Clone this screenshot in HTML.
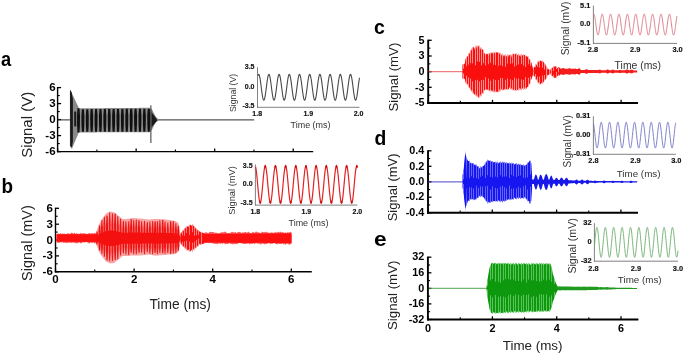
<!DOCTYPE html>
<html><head><meta charset="utf-8"><style>
html,body{margin:0;padding:0;background:#fff;}
svg{display:block;font-family:"Liberation Sans",sans-serif;will-change:transform;}
</style></head><body>
<svg width="685" height="355" viewBox="0 0 685 355">
<rect width="685" height="355" fill="#fff"/>
<text transform="translate(1.1,66.3) scale(0.87,1)" x="0" y="0" font-size="21" font-weight="bold" fill="#000">a</text>
<text transform="translate(1.5,193.2) scale(0.9,1)" x="0" y="0" font-size="21" font-weight="bold" fill="#000">b</text>
<text transform="translate(374.0,33.7) scale(0.93,1)" x="0" y="0" font-size="21" font-weight="bold" fill="#000">c</text>
<text transform="translate(374.5,145.0) scale(0.92,1)" x="0" y="0" font-size="21" font-weight="bold" fill="#000">d</text>
<text transform="translate(374.0,245.6) scale(1.08,1)" x="0" y="0" font-size="21" font-weight="bold" fill="#000">e</text>
<line x1="57.6" y1="87" x2="57.6" y2="152.3" stroke="#000" stroke-width="1.4"/>
<line x1="56.9" y1="151.6" x2="313.2" y2="151.6" stroke="#000" stroke-width="1.4"/>
<line x1="57.6" y1="87.6" x2="61.1" y2="87.6" stroke="#000" stroke-width="1.3"/>
<line x1="57.6" y1="95.6" x2="59.8" y2="95.6" stroke="#000" stroke-width="1.1"/>
<line x1="57.6" y1="103.6" x2="61.1" y2="103.6" stroke="#000" stroke-width="1.3"/>
<line x1="57.6" y1="111.6" x2="59.8" y2="111.6" stroke="#000" stroke-width="1.1"/>
<line x1="57.6" y1="119.6" x2="61.1" y2="119.6" stroke="#000" stroke-width="1.3"/>
<line x1="57.6" y1="127.6" x2="59.8" y2="127.6" stroke="#000" stroke-width="1.1"/>
<line x1="57.6" y1="135.6" x2="61.1" y2="135.6" stroke="#000" stroke-width="1.3"/>
<line x1="57.6" y1="143.6" x2="59.8" y2="143.6" stroke="#000" stroke-width="1.1"/>
<line x1="57.6" y1="151.6" x2="61.1" y2="151.6" stroke="#000" stroke-width="1.3"/>
<text x="55.6" y="91.14" font-size="11.5" text-anchor="end" font-weight="bold" fill="#000">6</text>
<text x="55.6" y="107.14" font-size="11.5" text-anchor="end" font-weight="bold" fill="#000">3</text>
<text x="55.6" y="123.14" font-size="11.5" text-anchor="end" font-weight="bold" fill="#000">0</text>
<text x="55.6" y="139.14" font-size="11.5" text-anchor="end" font-weight="bold" fill="#000">-3</text>
<text x="55.6" y="155.14" font-size="11.5" text-anchor="end" font-weight="bold" fill="#000">-6</text>
<line x1="57.6" y1="151.6" x2="57.6" y2="148.4" stroke="#000" stroke-width="1.3"/>
<line x1="96.87" y1="151.6" x2="96.87" y2="149.4" stroke="#000" stroke-width="1.1"/>
<line x1="136.14" y1="151.6" x2="136.14" y2="148.4" stroke="#000" stroke-width="1.3"/>
<line x1="175.41" y1="151.6" x2="175.41" y2="149.4" stroke="#000" stroke-width="1.1"/>
<line x1="214.68" y1="151.6" x2="214.68" y2="148.4" stroke="#000" stroke-width="1.3"/>
<line x1="253.95" y1="151.6" x2="253.95" y2="149.4" stroke="#000" stroke-width="1.1"/>
<line x1="293.22" y1="151.6" x2="293.22" y2="148.4" stroke="#000" stroke-width="1.3"/>
<text transform="translate(31.9,157.7) rotate(-90)" font-size="15" text-anchor="start" fill="#222">Signal (V)</text>
<line x1="55.5" y1="207.7" x2="55.5" y2="272.4" stroke="#000" stroke-width="1.4"/>
<line x1="54.8" y1="271.7" x2="311.8" y2="271.7" stroke="#000" stroke-width="1.4"/>
<line x1="55.5" y1="208.3" x2="59" y2="208.3" stroke="#000" stroke-width="1.3"/>
<line x1="55.5" y1="216.25" x2="57.7" y2="216.25" stroke="#000" stroke-width="1.1"/>
<line x1="55.5" y1="224.2" x2="59" y2="224.2" stroke="#000" stroke-width="1.3"/>
<line x1="55.5" y1="232.1" x2="57.7" y2="232.1" stroke="#000" stroke-width="1.1"/>
<line x1="55.5" y1="240" x2="59" y2="240" stroke="#000" stroke-width="1.3"/>
<line x1="55.5" y1="247.95" x2="57.7" y2="247.95" stroke="#000" stroke-width="1.1"/>
<line x1="55.5" y1="255.9" x2="59" y2="255.9" stroke="#000" stroke-width="1.3"/>
<line x1="55.5" y1="263.8" x2="57.7" y2="263.8" stroke="#000" stroke-width="1.1"/>
<line x1="55.5" y1="271.7" x2="59" y2="271.7" stroke="#000" stroke-width="1.3"/>
<text x="52.8" y="211.84" font-size="11.5" text-anchor="end" font-weight="bold" fill="#000">6</text>
<text x="52.8" y="227.74" font-size="11.5" text-anchor="end" font-weight="bold" fill="#000">3</text>
<text x="52.8" y="243.54" font-size="11.5" text-anchor="end" font-weight="bold" fill="#000">0</text>
<text x="52.8" y="259.44" font-size="11.5" text-anchor="end" font-weight="bold" fill="#000">-3</text>
<text x="52.8" y="275.24" font-size="11.5" text-anchor="end" font-weight="bold" fill="#000">-6</text>
<line x1="55.5" y1="271.7" x2="55.5" y2="268.5" stroke="#000" stroke-width="1.3"/>
<line x1="94.8" y1="271.7" x2="94.8" y2="269.5" stroke="#000" stroke-width="1.1"/>
<line x1="134.1" y1="271.7" x2="134.1" y2="268.5" stroke="#000" stroke-width="1.3"/>
<line x1="173.4" y1="271.7" x2="173.4" y2="269.5" stroke="#000" stroke-width="1.1"/>
<line x1="212.7" y1="271.7" x2="212.7" y2="268.5" stroke="#000" stroke-width="1.3"/>
<line x1="252" y1="271.7" x2="252" y2="269.5" stroke="#000" stroke-width="1.1"/>
<line x1="291.3" y1="271.7" x2="291.3" y2="268.5" stroke="#000" stroke-width="1.3"/>
<text x="55.5" y="283.4" font-size="11.5" text-anchor="middle" font-weight="bold" fill="#000">0</text>
<text x="134.1" y="283.4" font-size="11.5" text-anchor="middle" font-weight="bold" fill="#000">2</text>
<text x="212.7" y="283.4" font-size="11.5" text-anchor="middle" font-weight="bold" fill="#000">4</text>
<text x="291.3" y="283.4" font-size="11.5" text-anchor="middle" font-weight="bold" fill="#000">6</text>
<text x="180.2" y="309.3" font-size="13.8" text-anchor="middle" fill="#222">Time (ms)</text>
<text transform="translate(31.6,280.9) rotate(-90)" font-size="14.5" text-anchor="start" fill="#222">Signal (mV)</text>
<line x1="428.2" y1="39.7" x2="428.2" y2="103.95" stroke="#000" stroke-width="1.9"/>
<line x1="427.25" y1="103" x2="638" y2="103" stroke="#000" stroke-width="1.9"/>
<line x1="428.2" y1="40.3" x2="431.7" y2="40.3" stroke="#000" stroke-width="1.3"/>
<line x1="428.2" y1="48.15" x2="430.4" y2="48.15" stroke="#000" stroke-width="1.1"/>
<line x1="428.2" y1="56" x2="431.7" y2="56" stroke="#000" stroke-width="1.3"/>
<line x1="428.2" y1="63.85" x2="430.4" y2="63.85" stroke="#000" stroke-width="1.1"/>
<line x1="428.2" y1="71.7" x2="431.7" y2="71.7" stroke="#000" stroke-width="1.3"/>
<line x1="428.2" y1="79.5" x2="430.4" y2="79.5" stroke="#000" stroke-width="1.1"/>
<line x1="428.2" y1="87.3" x2="431.7" y2="87.3" stroke="#000" stroke-width="1.3"/>
<line x1="428.2" y1="95.15" x2="430.4" y2="95.15" stroke="#000" stroke-width="1.1"/>
<line x1="428.2" y1="103" x2="431.7" y2="103" stroke="#000" stroke-width="1.3"/>
<text x="424.6" y="43.59" font-size="10.8" text-anchor="end" font-weight="bold" fill="#000">5</text>
<text x="424.6" y="59.29" font-size="10.8" text-anchor="end" font-weight="bold" fill="#000">3</text>
<text x="424.6" y="74.99" font-size="10.8" text-anchor="end" font-weight="bold" fill="#000">0</text>
<text x="424.6" y="90.59" font-size="10.8" text-anchor="end" font-weight="bold" fill="#000">-3</text>
<text x="424.6" y="106.29" font-size="10.8" text-anchor="end" font-weight="bold" fill="#000">-5</text>
<line x1="428.2" y1="103" x2="428.2" y2="99.8" stroke="#000" stroke-width="1.3"/>
<line x1="460.35" y1="103" x2="460.35" y2="100.8" stroke="#000" stroke-width="1.1"/>
<line x1="492.5" y1="103" x2="492.5" y2="99.8" stroke="#000" stroke-width="1.3"/>
<line x1="524.65" y1="103" x2="524.65" y2="100.8" stroke="#000" stroke-width="1.1"/>
<line x1="556.8" y1="103" x2="556.8" y2="99.8" stroke="#000" stroke-width="1.3"/>
<line x1="588.95" y1="103" x2="588.95" y2="100.8" stroke="#000" stroke-width="1.1"/>
<line x1="621.1" y1="103" x2="621.1" y2="99.8" stroke="#000" stroke-width="1.3"/>
<text transform="translate(397.9,111.6) rotate(-90)" font-size="13.2" text-anchor="start" fill="#222">Signal (mV)</text>
<line x1="428" y1="150.2" x2="428" y2="213.65" stroke="#000" stroke-width="1.9"/>
<line x1="427.05" y1="212.7" x2="638" y2="212.7" stroke="#000" stroke-width="1.9"/>
<line x1="428" y1="150.8" x2="431.5" y2="150.8" stroke="#000" stroke-width="1.3"/>
<line x1="428" y1="158.55" x2="430.2" y2="158.55" stroke="#000" stroke-width="1.1"/>
<line x1="428" y1="166.3" x2="431.5" y2="166.3" stroke="#000" stroke-width="1.3"/>
<line x1="428" y1="174.05" x2="430.2" y2="174.05" stroke="#000" stroke-width="1.1"/>
<line x1="428" y1="181.8" x2="431.5" y2="181.8" stroke="#000" stroke-width="1.3"/>
<line x1="428" y1="189.5" x2="430.2" y2="189.5" stroke="#000" stroke-width="1.1"/>
<line x1="428" y1="197.2" x2="431.5" y2="197.2" stroke="#000" stroke-width="1.3"/>
<line x1="428" y1="204.95" x2="430.2" y2="204.95" stroke="#000" stroke-width="1.1"/>
<line x1="428" y1="212.7" x2="431.5" y2="212.7" stroke="#000" stroke-width="1.3"/>
<text x="424.3" y="154.09" font-size="10.8" text-anchor="end" font-weight="bold" fill="#000">0.4</text>
<text x="424.3" y="169.59" font-size="10.8" text-anchor="end" font-weight="bold" fill="#000">0.2</text>
<text x="424.3" y="185.09" font-size="10.8" text-anchor="end" font-weight="bold" fill="#000">0.0</text>
<text x="424.3" y="200.49" font-size="10.8" text-anchor="end" font-weight="bold" fill="#000">-0.2</text>
<text x="424.3" y="215.99" font-size="10.8" text-anchor="end" font-weight="bold" fill="#000">-0.4</text>
<line x1="428" y1="212.7" x2="428" y2="209.5" stroke="#000" stroke-width="1.3"/>
<line x1="460.15" y1="212.7" x2="460.15" y2="210.5" stroke="#000" stroke-width="1.1"/>
<line x1="492.3" y1="212.7" x2="492.3" y2="209.5" stroke="#000" stroke-width="1.3"/>
<line x1="524.45" y1="212.7" x2="524.45" y2="210.5" stroke="#000" stroke-width="1.1"/>
<line x1="556.6" y1="212.7" x2="556.6" y2="209.5" stroke="#000" stroke-width="1.3"/>
<line x1="588.75" y1="212.7" x2="588.75" y2="210.5" stroke="#000" stroke-width="1.1"/>
<line x1="620.9" y1="212.7" x2="620.9" y2="209.5" stroke="#000" stroke-width="1.3"/>
<text transform="translate(396.9,221.3) rotate(-90)" font-size="13.0" text-anchor="start" fill="#222">Signal (mV)</text>
<line x1="427.9" y1="256.6" x2="427.9" y2="320.45" stroke="#000" stroke-width="1.9"/>
<line x1="426.95" y1="319.5" x2="638.4" y2="319.5" stroke="#000" stroke-width="1.9"/>
<line x1="427.9" y1="257.2" x2="431.4" y2="257.2" stroke="#000" stroke-width="1.3"/>
<line x1="427.9" y1="265" x2="430.1" y2="265" stroke="#000" stroke-width="1.1"/>
<line x1="427.9" y1="272.8" x2="431.4" y2="272.8" stroke="#000" stroke-width="1.3"/>
<line x1="427.9" y1="280.6" x2="430.1" y2="280.6" stroke="#000" stroke-width="1.1"/>
<line x1="427.9" y1="288.4" x2="431.4" y2="288.4" stroke="#000" stroke-width="1.3"/>
<line x1="427.9" y1="296.15" x2="430.1" y2="296.15" stroke="#000" stroke-width="1.1"/>
<line x1="427.9" y1="303.9" x2="431.4" y2="303.9" stroke="#000" stroke-width="1.3"/>
<line x1="427.9" y1="311.7" x2="430.1" y2="311.7" stroke="#000" stroke-width="1.1"/>
<line x1="427.9" y1="319.5" x2="431.4" y2="319.5" stroke="#000" stroke-width="1.3"/>
<text x="424.3" y="260.49" font-size="10.8" text-anchor="end" font-weight="bold" fill="#000">32</text>
<text x="424.3" y="276.09" font-size="10.8" text-anchor="end" font-weight="bold" fill="#000">16</text>
<text x="424.3" y="291.69" font-size="10.8" text-anchor="end" font-weight="bold" fill="#000">0</text>
<text x="424.3" y="307.19" font-size="10.8" text-anchor="end" font-weight="bold" fill="#000">-16</text>
<text x="424.3" y="322.79" font-size="10.8" text-anchor="end" font-weight="bold" fill="#000">-32</text>
<line x1="428.1" y1="319.5" x2="428.1" y2="316.3" stroke="#000" stroke-width="1.3"/>
<line x1="460.25" y1="319.5" x2="460.25" y2="317.3" stroke="#000" stroke-width="1.1"/>
<line x1="492.4" y1="319.5" x2="492.4" y2="316.3" stroke="#000" stroke-width="1.3"/>
<line x1="524.55" y1="319.5" x2="524.55" y2="317.3" stroke="#000" stroke-width="1.1"/>
<line x1="556.7" y1="319.5" x2="556.7" y2="316.3" stroke="#000" stroke-width="1.3"/>
<line x1="588.85" y1="319.5" x2="588.85" y2="317.3" stroke="#000" stroke-width="1.1"/>
<line x1="621" y1="319.5" x2="621" y2="316.3" stroke="#000" stroke-width="1.3"/>
<text x="428.1" y="331.6" font-size="10.8" text-anchor="middle" font-weight="bold" fill="#000">0</text>
<text x="492.4" y="331.6" font-size="10.8" text-anchor="middle" font-weight="bold" fill="#000">2</text>
<text x="556.7" y="331.6" font-size="10.8" text-anchor="middle" font-weight="bold" fill="#000">4</text>
<text x="621" y="331.6" font-size="10.8" text-anchor="middle" font-weight="bold" fill="#000">6</text>
<text x="532.6" y="349.8" font-size="13.4" text-anchor="middle" fill="#222">Time (ms)</text>
<text transform="translate(397.3,330) rotate(-90)" font-size="13.3" text-anchor="start" fill="#222">Signal (mV)</text>
<line x1="57.5" y1="119.9" x2="70.6" y2="119.9" stroke="#2a2a2a" stroke-width="1.0"/>
<line x1="157" y1="119.9" x2="254.2" y2="119.9" stroke="#2a2a2a" stroke-width="1.0"/>
<polygon points="69.9,92 70.4,89.76 70.91,91.02 71.41,92.28 71.91,93.37 72.42,94.43 72.92,95.5 73.42,96.56 73.93,97.62 74.43,98.68 74.93,99.74 75.44,100.81 75.94,101.87 76.44,102.93 76.95,103.99 77.45,105.05 77.95,106.12 78.46,107.18 78.96,108.22 79.46,108.3 79.97,108.29 80.47,108.29 80.98,108.29 81.48,108.28 81.98,108.28 82.49,108.28 82.99,108.27 83.49,108.27 84,108.26 84.5,108.26 85,108.26 85.51,108.25 86.01,108.25 86.51,108.25 87.02,108.24 87.52,108.24 88.02,108.24 88.53,108.23 89.03,108.23 89.53,108.23 90.04,108.22 90.54,108.22 91.04,108.21 91.55,108.21 92.05,108.21 92.55,108.2 93.06,108.2 93.56,108.2 94.06,108.19 94.57,108.19 95.07,108.19 95.57,108.18 96.08,108.18 96.58,108.18 97.08,108.17 97.59,108.17 98.09,108.16 98.59,108.16 99.1,108.16 99.6,108.15 100.1,108.15 100.61,108.15 101.11,108.14 101.61,108.14 102.12,108.14 102.62,108.13 103.12,108.13 103.63,108.13 104.13,108.12 104.64,108.12 105.14,108.11 105.64,108.11 106.15,108.11 106.65,108.1 107.15,108.1 107.66,108.1 108.16,108.09 108.66,108.09 109.17,108.09 109.67,108.08 110.17,108.08 110.68,108.08 111.18,108.07 111.68,108.07 112.19,108.06 112.69,108.06 113.19,108.06 113.7,108.05 114.2,108.05 114.7,108.05 115.21,108.04 115.71,108.04 116.21,108.04 116.72,108.03 117.22,108.03 117.72,108.03 118.23,108.02 118.73,108.02 119.23,108.02 119.74,108.01 120.24,108.01 120.74,108 121.25,108 121.75,108 122.25,107.99 122.76,107.99 123.26,107.99 123.76,107.98 124.27,107.98 124.77,107.98 125.28,107.97 125.78,107.97 126.28,107.97 126.79,107.96 127.29,107.96 127.79,107.95 128.3,107.95 128.8,107.95 129.3,107.94 129.81,107.94 130.31,107.94 130.81,107.93 131.32,107.93 131.82,107.93 132.32,107.92 132.83,107.92 133.33,107.92 133.83,107.91 134.34,107.91 134.84,107.9 135.34,107.9 135.85,107.9 136.35,107.89 136.85,107.89 137.36,107.89 137.86,107.88 138.36,107.88 138.87,107.88 139.37,107.87 139.87,107.87 140.38,107.87 140.88,107.86 141.38,107.86 141.89,107.85 142.39,107.85 142.89,107.85 143.4,107.84 143.9,107.84 144.4,107.84 144.91,107.83 145.41,107.83 145.91,107.83 146.42,107.82 146.92,107.82 147.43,107.82 147.93,107.81 148.43,107.81 148.94,107.8 149.44,107.8 149.94,108.04 150.45,108.39 150.95,108.73 151.45,109.08 151.96,109.43 152.46,110.16 152.96,111.25 153.47,112.34 153.97,113.43 154.47,114.33 154.98,115.21 155.48,116.09 155.98,116.97 156.49,117.45 156.99,117.91 157.49,118.37 158,118.84 158.5,119.3 158.5,120.5 158,120.9 157.49,121.31 156.99,121.71 156.49,122.11 155.98,122.53 155.48,123.28 154.98,124.04 154.47,124.79 153.97,125.57 153.47,126.69 152.96,127.81 152.46,128.92 151.96,129.76 151.45,130.31 150.95,130.85 150.45,131.39 149.94,131.93 149.44,132.3 148.94,132.3 148.43,132.3 147.93,132.3 147.43,132.3 146.92,132.3 146.42,132.3 145.91,132.31 145.41,132.31 144.91,132.31 144.4,132.31 143.9,132.31 143.4,132.31 142.89,132.31 142.39,132.31 141.89,132.31 141.38,132.31 140.88,132.31 140.38,132.31 139.87,132.31 139.37,132.31 138.87,132.32 138.36,132.32 137.86,132.32 137.36,132.32 136.85,132.32 136.35,132.32 135.85,132.32 135.34,132.32 134.84,132.32 134.34,132.32 133.83,132.32 133.33,132.32 132.83,132.32 132.32,132.32 131.82,132.33 131.32,132.33 130.81,132.33 130.31,132.33 129.81,132.33 129.3,132.33 128.8,132.33 128.3,132.33 127.79,132.33 127.29,132.33 126.79,132.33 126.28,132.33 125.78,132.33 125.28,132.33 124.77,132.34 124.27,132.34 123.76,132.34 123.26,132.34 122.76,132.34 122.25,132.34 121.75,132.34 121.25,132.34 120.74,132.34 120.24,132.34 119.74,132.34 119.23,132.34 118.73,132.34 118.23,132.34 117.72,132.35 117.22,132.35 116.72,132.35 116.21,132.35 115.71,132.35 115.21,132.35 114.7,132.35 114.2,132.35 113.7,132.35 113.19,132.35 112.69,132.35 112.19,132.35 111.68,132.35 111.18,132.35 110.68,132.36 110.17,132.36 109.67,132.36 109.17,132.36 108.66,132.36 108.16,132.36 107.66,132.36 107.15,132.36 106.65,132.36 106.15,132.36 105.64,132.36 105.14,132.36 104.64,132.36 104.13,132.36 103.63,132.37 103.12,132.37 102.62,132.37 102.12,132.37 101.61,132.37 101.11,132.37 100.61,132.37 100.1,132.37 99.6,132.37 99.1,132.37 98.59,132.37 98.09,132.37 97.59,132.37 97.08,132.37 96.58,132.38 96.08,132.38 95.57,132.38 95.07,132.38 94.57,132.38 94.06,132.38 93.56,132.38 93.06,132.38 92.55,132.38 92.05,132.38 91.55,132.38 91.04,132.38 90.54,132.38 90.04,132.38 89.53,132.39 89.03,132.39 88.53,132.39 88.02,132.39 87.52,132.39 87.02,132.39 86.51,132.39 86.01,132.39 85.51,132.39 85,132.39 84.5,132.39 84,132.39 83.49,132.39 82.99,132.39 82.49,132.4 81.98,132.4 81.48,132.4 80.98,132.4 80.47,132.4 79.97,132.4 79.46,132.4 78.96,132.4 78.46,133.22 77.95,134.43 77.45,135.63 76.95,136.84 76.44,138.05 75.94,139.25 75.44,140.46 74.93,141.67 74.43,142.87 73.93,144.08 73.42,145.29 72.92,146.49 72.42,147.72 71.91,149.06 71.41,148.34 70.91,147.56 70.4,146.78 69.9,146" fill="#8a8a8a" stroke="none" stroke-width="0"/>
<polygon points="77.5,108.17 79.5,108.17 80,115.47 79.9,125.21 79.5,132.52 77.5,132.52 77.1,125.21 77,115.47" fill="#101010" stroke="none" stroke-width="0"/>
<polygon points="81.89,109.17 83.89,109.17 84.39,115.96 84.29,125.01 83.89,131.79 81.89,131.79 81.49,125.01 81.39,115.96" fill="#101010" stroke="none" stroke-width="0"/>
<polygon points="86.28,109.14 88.28,109.14 88.78,115.94 88.68,124.99 88.28,131.79 86.28,131.79 85.88,124.99 85.78,115.94" fill="#101010" stroke="none" stroke-width="0"/>
<polygon points="90.67,109.11 92.67,109.11 93.17,115.91 93.07,124.98 92.67,131.78 90.67,131.78 90.27,124.98 90.17,115.91" fill="#101010" stroke="none" stroke-width="0"/>
<polygon points="95.06,109.08 97.06,109.08 97.56,115.89 97.46,124.97 97.06,131.78 95.06,131.78 94.66,124.97 94.56,115.89" fill="#101010" stroke="none" stroke-width="0"/>
<polygon points="99.45,109.05 101.45,109.05 101.95,115.86 101.85,124.95 101.45,131.77 99.45,131.77 99.05,124.95 98.95,115.86" fill="#101010" stroke="none" stroke-width="0"/>
<polygon points="103.84,109.02 105.84,109.02 106.34,115.84 106.24,124.94 105.84,131.76 103.84,131.76 103.44,124.94 103.34,115.84" fill="#101010" stroke="none" stroke-width="0"/>
<polygon points="108.23,108.99 110.23,108.99 110.73,115.82 110.63,124.93 110.23,131.76 108.23,131.76 107.83,124.93 107.73,115.82" fill="#101010" stroke="none" stroke-width="0"/>
<polygon points="112.62,108.95 114.62,108.95 115.12,115.79 115.02,124.91 114.62,131.75 112.62,131.75 112.22,124.91 112.12,115.79" fill="#101010" stroke="none" stroke-width="0"/>
<polygon points="117.01,108.92 119.01,108.92 119.51,115.77 119.41,124.9 119.01,131.74 117.01,131.74 116.61,124.9 116.51,115.77" fill="#101010" stroke="none" stroke-width="0"/>
<polygon points="121.4,108.89 123.4,108.89 123.9,115.75 123.8,124.88 123.4,131.74 121.4,131.74 121,124.88 120.9,115.75" fill="#101010" stroke="none" stroke-width="0"/>
<polygon points="125.79,108.86 127.79,108.86 128.29,115.72 128.19,124.87 127.79,131.73 125.79,131.73 125.39,124.87 125.29,115.72" fill="#101010" stroke="none" stroke-width="0"/>
<polygon points="130.18,108.83 132.18,108.83 132.68,115.7 132.58,124.86 132.18,131.73 130.18,131.73 129.78,124.86 129.68,115.7" fill="#101010" stroke="none" stroke-width="0"/>
<polygon points="134.57,108.8 136.57,108.8 137.07,115.68 136.97,124.84 136.57,131.72 134.57,131.72 134.17,124.84 134.07,115.68" fill="#101010" stroke="none" stroke-width="0"/>
<polygon points="138.96,108.77 140.96,108.77 141.46,115.65 141.36,124.83 140.96,131.71 138.96,131.71 138.56,124.83 138.46,115.65" fill="#101010" stroke="none" stroke-width="0"/>
<polygon points="143.35,108.74 145.35,108.74 145.85,115.63 145.75,124.82 145.35,131.71 143.35,131.71 142.95,124.82 142.85,115.63" fill="#101010" stroke="none" stroke-width="0"/>
<polygon points="147.74,108.71 149.74,108.71 150.24,115.6 150.14,124.8 149.74,131.7 147.74,131.7 147.34,124.8 147.24,115.6" fill="#101010" stroke="none" stroke-width="0"/>
<polygon points="151.5,112 157,119.4 157,120.4 151.5,127.5" fill="#1a1a1a" stroke="none" stroke-width="0"/>
<line x1="70.5" y1="90.5" x2="70.9" y2="146" stroke="#333" stroke-width="1.0"/>
<polygon points="70.2,91 71.6,92 72.9,99 72.9,141.2 71.9,147.5 70.4,146" fill="#1a1a1a" stroke="none" stroke-width="0"/>
<polygon points="74.2,111.6 76.2,111.6 76.2,126.4 74.2,126.4" fill="#181818" stroke="none" stroke-width="0"/>
<line x1="150.9" y1="105.3" x2="150.9" y2="143" stroke="#333" stroke-width="1.0"/>
<polygon points="56.5,233.68 57.4,233.95 58.3,233.15 59.2,234.07 60.1,233.32 61,233.59 61.9,234.08 62.8,233.36 63.7,234.1 64.6,233.46 65.5,234.04 66.4,234 67.3,233.47 68.2,232.82 69.1,233.94 70,233.77 70.9,233.12 71.8,232.61 72.7,233.19 73.6,233.48 74.5,232.55 75.4,234.03 76.3,232.73 77.2,233.63 78.1,233.86 79,233.9 79.9,233.59 80.8,232.77 81.7,233.78 82.6,233.14 83.5,233.04 84.4,233.46 85.3,233.18 86.2,233.95 87.1,233.95 88,233.71 88.9,232.95 89.8,233.35 90.7,233.52 91.6,233.08 92.5,233.29 93.4,233.53 94.3,232.74 95.2,232.88 96.1,233.61 97,233.07 97.9,233.15 98.8,232.58 99.7,232.81 100.6,233.51 101.5,232.4 102.4,233.78 103.3,233.29 104.2,232.75 105.1,233.71 106,233.17 106.9,233.88 107.8,232.87 108.7,232.71 109.6,233.01 110.5,232.52 111.4,233.42 112.3,232.8 113.2,232.96 114.1,232.98 115,233.17 115.9,232.55 116.8,232.38 117.7,233.13 118.6,232.82 119.5,233.78 120.4,232.75 121.3,232.83 122.2,232.28 123.1,232.54 124,233.4 124.9,233.23 125.8,232.78 126.7,233.81 127.6,233.1 128.5,233.56 129.4,233.64 130.3,233.73 131.2,232.59 132.1,233.61 133,233.41 133.9,233.18 134.8,232.41 135.7,233.67 136.6,233.07 137.5,232.91 138.4,232.37 139.3,232.47 140.2,232.39 141.1,233.32 142,233.1 142.9,233.18 143.8,232.34 144.7,232.22 145.6,233.5 146.5,233.46 147.4,233.36 148.3,233.36 149.2,232.95 150.1,232.78 151,233.3 151.9,233.71 152.8,233.04 153.7,233.11 154.6,232.79 155.5,232.17 156.4,232.59 157.3,232.86 158.2,232.69 159.1,232.59 160,233.59 160.9,232.23 161.8,232.41 162.7,232.26 163.6,232.38 164.5,233.02 165.4,233.01 166.3,233.47 167.2,232.62 168.1,233.53 169,233.52 169.9,233.29 170.8,233.36 171.7,233.07 172.6,233.52 173.5,233.6 174.4,233.36 175.3,233.43 176.2,233.01 177.1,233.54 178,232.18 178.9,232.59 179.8,233.33 180.7,233.16 181.6,233.01 182.5,232.97 183.4,233.36 184.3,232.19 185.2,231.95 186.1,232.79 187,232.76 187.9,233.39 188.8,233.36 189.7,232.97 190.6,233.09 191.5,232.18 192.4,233.25 193.3,233.46 194.2,231.98 195.1,232.65 196,233.25 196.9,232.61 197.8,233.44 198.7,232.63 199.6,231.9 200.5,232.08 201.4,232.35 202.3,233.04 203.2,232.86 204.1,233.18 205,232.21 205.9,232.59 206.8,232.19 207.7,232.9 208.6,233.07 209.5,232.12 210.4,231.84 211.3,232.05 212.2,232.12 213.1,232.09 214,232.21 214.9,233.03 215.8,232.56 216.7,232.81 217.6,233.33 218.5,233.33 219.4,232.92 220.3,232.95 221.2,232.25 222.1,231.82 223,232.63 223.9,231.85 224.8,231.76 225.7,231.81 226.6,232.75 227.5,232.97 228.4,232.96 229.3,233 230.2,232.99 231.1,232.31 232,231.86 232.9,231.95 233.8,232.53 234.7,232.25 235.6,232.01 236.5,233.15 237.4,232.22 238.3,231.82 239.2,232.02 240.1,232.06 241,232.49 241.9,232.97 242.8,231.99 243.7,232.71 244.6,231.96 245.5,231.68 246.4,232.6 247.3,232.58 248.2,231.71 249.1,232.06 250,232.94 250.9,233 251.8,232.96 252.7,231.75 253.6,231.9 254.5,232.96 255.4,231.86 256.3,231.61 257.2,232.12 258.1,232.61 259,232.29 259.9,232.95 260.8,233.13 261.7,231.6 262.6,232.11 263.5,232.3 264.4,231.65 265.3,232.44 266.2,231.73 267.1,231.8 268,232.78 268.9,232.71 269.8,232.64 270.7,232.72 271.6,232.16 272.5,232.68 273.4,232.42 274.3,232.88 275.2,231.63 276.1,232.51 277,232.34 277.9,232.14 278.8,231.62 279.7,232.39 280.6,231.59 281.5,232.25 282.4,232.2 283.3,232.2 284.2,233.01 285.1,232.33 286,232.74 286.9,233.02 287.8,231.74 288.7,232.74 289.6,232.25 290.5,231.85 291.4,232.11 291.4,243.63 290.5,243.91 289.6,244.74 288.7,244.49 287.8,243.91 286.9,243.2 286,244.66 285.1,244.73 284.2,243.47 283.3,244.58 282.4,243.33 281.5,243.89 280.6,243.88 279.7,243.96 278.8,243.59 277.9,244.2 277,244.22 276.1,244.18 275.2,243.53 274.3,243.19 273.4,243.11 272.5,243.99 271.6,243.57 270.7,244.26 269.8,243.48 268.9,243.3 268,243.18 267.1,244.08 266.2,244.04 265.3,244.27 264.4,244.13 263.5,243.8 262.6,243.64 261.7,243.81 260.8,244.58 259.9,244.19 259,243.33 258.1,244.17 257.2,243.42 256.3,243.11 255.4,243.39 254.5,244.16 253.6,243.08 252.7,244.02 251.8,243.82 250.9,243.76 250,244.15 249.1,244.22 248.2,242.95 247.3,243.72 246.4,244.02 245.5,243.93 244.6,243.92 243.7,243.81 242.8,244.25 241.9,243.07 241,243.48 240.1,243.11 239.2,242.94 238.3,243.25 237.4,243.99 236.5,243.96 235.6,244.3 234.7,243.8 233.8,244.18 232.9,244.14 232,244.18 231.1,243.65 230.2,243.67 229.3,243.05 228.4,244.12 227.5,243.99 226.6,243.82 225.7,244.23 224.8,244.14 223.9,242.87 223,243.82 222.1,243.94 221.2,243.02 220.3,244.35 219.4,243.29 218.5,243.39 217.6,244.17 216.7,243.9 215.8,243.8 214.9,243.94 214,243.58 213.1,243.67 212.2,243.1 211.3,243.21 210.4,242.75 209.5,242.78 208.6,243.34 207.7,242.84 206.8,243.12 205.9,242.7 205,243.49 204.1,243 203.2,243.48 202.3,243.43 201.4,243.27 200.5,242.66 199.6,243.22 198.7,243.14 197.8,244.19 196.9,243.03 196,243.51 195.1,244.18 194.2,244.16 193.3,243.04 192.4,243.32 191.5,242.86 190.6,243.33 189.7,243.06 188.8,242.98 187.9,243.03 187,243.65 186.1,243.96 185.2,243.91 184.3,242.7 183.4,242.82 182.5,242.96 181.6,243.73 180.7,242.65 179.8,242.74 178.9,242.62 178,243.08 177.1,243.17 176.2,243.53 175.3,243.64 174.4,243.83 173.5,243.05 172.6,244.06 171.7,243.59 170.8,243.29 169.9,243.1 169,243.81 168.1,243.26 167.2,243.15 166.3,243.76 165.4,242.62 164.5,243.94 163.6,243.2 162.7,242.74 161.8,243.31 160.9,243.59 160,242.44 159.1,242.81 158.2,242.43 157.3,242.96 156.4,242.68 155.5,243.19 154.6,242.85 153.7,243.59 152.8,242.86 151.9,242.87 151,242.69 150.1,242.44 149.2,242.61 148.3,242.52 147.4,242.72 146.5,243.18 145.6,242.54 144.7,242.75 143.8,243.8 142.9,243.2 142,242.85 141.1,243.03 140.2,243.68 139.3,242.4 138.4,243.66 137.5,242.42 136.6,243.56 135.7,243.29 134.8,243.77 133.9,242.38 133,242.94 132.1,243.35 131.2,242.34 130.3,242.38 129.4,243.35 128.5,243.14 127.6,243.69 126.7,242.46 125.8,242.63 124.9,243.52 124,243.66 123.1,242.87 122.2,242.4 121.3,242.62 120.4,243.43 119.5,242.24 118.6,242.59 117.7,242.33 116.8,243.71 115.9,243.42 115,243.72 114.1,242.25 113.2,242.96 112.3,243.13 111.4,242.66 110.5,242.15 109.6,242.82 108.7,243 107.8,242.14 106.9,243.26 106,242.6 105.1,242.4 104.2,242.63 103.3,242.9 102.4,242.76 101.5,242.33 100.6,243.39 99.7,243.64 98.8,242.83 97.9,242.68 97,243.57 96.1,242.39 95.2,243.58 94.3,243.44 93.4,242.25 92.5,243.07 91.6,243.15 90.7,242.25 89.8,243.43 88.9,243.25 88,243.06 87.1,242.1 86.2,242.36 85.3,242.09 84.4,242.67 83.5,242.16 82.6,242.17 81.7,243.29 80.8,243.45 79.9,242.83 79,242.35 78.1,243.44 77.2,243.33 76.3,243.04 75.4,243.42 74.5,242.67 73.6,242.76 72.7,242.62 71.8,243 70.9,242.71 70,242.69 69.1,242.86 68.2,242.58 67.3,243.32 66.4,243.07 65.5,242.75 64.6,242.66 63.7,243.08 62.8,242.28 61.9,242.23 61,242.72 60.1,241.99 59.2,243.07 58.3,242.7 57.4,242.63 56.5,242.32" fill="#f86060" stroke="none" stroke-width="0"/>
<polygon points="56.5,234.3 200,234 291.6,233.2 291.6,243.2 200,242.4 56.5,241.7" fill="#ff1010" stroke="none" stroke-width="0"/>
<polygon points="181,233.5 181.8,231.9 182.6,230.3 183.4,231.28 184.2,228.55 185,228.9 185.8,227.29 186.6,227.38 187.4,226.04 188.2,227.22 189,225.16 189.8,225.5 190.6,224.55 191.4,225.98 192.2,224.41 193,225.62 193.8,225.81 194.6,227.46 195.4,227.44 196.2,229.78 197,229.09 197.8,230.64 198.6,230.33 199.4,231.56 200.2,231.44 201,233.57 201.8,232.4 202.6,232.8 203.4,233.2 204,233.5 204,243.5 203.4,243.7 202.6,243.97 201.8,244.23 201,243.59 200.2,245.06 199.4,243.55 198.6,246.17 197.8,245.58 197,247.35 196.2,245.89 195.4,248.76 194.6,247.34 193.8,250.18 193,248.47 192.2,251.51 191.4,249.42 190.6,251.72 189.8,249.94 189,251.32 188.2,249.21 187.4,250.55 186.6,248.48 185.8,249.28 185,246.48 184.2,247.98 183.4,246.17 182.6,246.3 181.8,244.9 181,243.5" fill="#f81010" stroke="none" stroke-width="0"/>
<line x1="182.5" y1="230.8" x2="182.5" y2="235.27" stroke="#ff9a9a" stroke-width="0.8"/>
<line x1="182.5" y1="241.8" x2="182.5" y2="245.9" stroke="#ff9a9a" stroke-width="0.8"/>
<line x1="184.5" y1="228.08" x2="184.5" y2="235.62" stroke="#ff9a9a" stroke-width="0.8"/>
<line x1="184.5" y1="241.44" x2="184.5" y2="248.46" stroke="#ff9a9a" stroke-width="0.8"/>
<line x1="186.5" y1="226.08" x2="186.5" y2="232.93" stroke="#ff9a9a" stroke-width="0.8"/>
<line x1="186.5" y1="240.69" x2="186.5" y2="250.51" stroke="#ff9a9a" stroke-width="0.8"/>
<line x1="189.5" y1="224.5" x2="189.5" y2="234.89" stroke="#ff9a9a" stroke-width="0.8"/>
<line x1="189.5" y1="241.63" x2="189.5" y2="251.92" stroke="#ff9a9a" stroke-width="0.8"/>
<line x1="192.5" y1="224.11" x2="192.5" y2="232.21" stroke="#ff9a9a" stroke-width="0.8"/>
<line x1="192.5" y1="242.68" x2="192.5" y2="251.81" stroke="#ff9a9a" stroke-width="0.8"/>
<line x1="194.5" y1="226.1" x2="194.5" y2="235.69" stroke="#ff9a9a" stroke-width="0.8"/>
<line x1="194.5" y1="241.64" x2="194.5" y2="249.96" stroke="#ff9a9a" stroke-width="0.8"/>
<line x1="196.5" y1="228.33" x2="196.5" y2="235.27" stroke="#ff9a9a" stroke-width="0.8"/>
<line x1="196.5" y1="239.95" x2="196.5" y2="248.05" stroke="#ff9a9a" stroke-width="0.8"/>
<line x1="198.5" y1="230.3" x2="198.5" y2="234.79" stroke="#ff9a9a" stroke-width="0.8"/>
<line x1="198.5" y1="238.59" x2="198.5" y2="246.2" stroke="#ff9a9a" stroke-width="0.8"/>
<line x1="201.5" y1="231.76" x2="201.5" y2="238.19" stroke="#ff9a9a" stroke-width="0.8"/>
<line x1="201.5" y1="237.87" x2="201.5" y2="244.76" stroke="#ff9a9a" stroke-width="0.8"/>
<polygon points="96,233.5 96.5,231.87 97.01,230.24 97.51,228.61 98.01,226.98 98.51,225.37 99.02,224.5 99.52,223.62 100.02,222.75 100.53,221.87 101.03,220.99 101.53,220.12 102.04,219.35 102.54,218.59 103.04,217.84 103.54,217.08 104.05,216.33 104.55,215.57 105.05,214.82 105.56,214.07 106.06,213.57 106.56,213.32 107.07,213.07 107.57,212.82 108.07,212.56 108.57,212.31 109.08,212.06 109.58,211.81 110.08,211.61 110.59,211.7 111.09,211.78 111.59,211.86 112.1,211.94 112.6,212.02 113.1,212.1 113.6,212.19 114.11,212.27 114.61,212.56 115.11,212.98 115.62,213.4 116.12,213.82 116.62,214.24 117.12,214.65 117.63,215.07 118.13,215.49 118.63,215.9 119.14,216.29 119.64,216.67 120.14,217.05 120.65,217.43 121.15,217.82 121.65,218.2 122.15,218.58 122.66,218.97 123.16,219 123.66,219 124.17,219 124.67,219 125.17,219 125.68,219 126.18,219 126.68,219 127.18,218.97 127.69,218.87 128.19,218.78 128.69,218.68 129.2,218.59 129.7,218.49 130.2,218.4 130.71,218.3 131.21,218.21 131.71,218.11 132.21,218.02 132.72,218.03 133.22,218.07 133.72,218.1 134.23,218.14 134.73,218.17 135.23,218.21 135.74,218.25 136.24,218.28 136.74,218.32 137.24,218.35 137.75,218.39 138.25,218.42 138.75,218.46 139.26,218.5 139.76,218.53 140.26,218.57 140.76,218.61 141.27,218.66 141.77,218.71 142.27,218.77 142.78,218.82 143.28,218.87 143.78,218.93 144.29,218.98 144.79,219.03 145.29,219.09 145.79,219.14 146.3,219.19 146.8,219.25 147.3,219.3 147.81,219.35 148.31,219.41 148.81,219.46 149.32,219.49 149.82,219.44 150.32,219.39 150.82,219.33 151.33,219.28 151.83,219.23 152.33,219.18 152.84,219.13 153.34,219.08 153.84,219.03 154.35,218.98 154.85,218.93 155.35,218.91 155.85,218.94 156.36,218.96 156.86,218.99 157.36,219.01 157.87,219.04 158.37,219.06 158.87,219.08 159.38,219.11 159.88,219.13 160.38,219.16 160.88,219.18 161.39,219.21 161.89,219.23 162.39,219.26 162.9,219.28 163.4,219.31 163.9,219.33 164.4,219.36 164.91,219.38 165.41,219.42 165.91,219.5 166.42,219.58 166.92,219.66 167.42,219.74 167.93,219.82 168.43,219.9 168.93,219.98 169.43,220.05 169.94,220.13 170.44,220.21 170.94,220.29 171.45,220.37 171.95,220.45 172.45,220.53 172.96,220.61 173.46,220.69 173.96,220.77 174.46,220.85 174.97,220.93 175.47,221.05 175.97,221.44 176.48,221.82 176.98,222.21 177.48,222.59 177.99,222.98 178.49,223.36 178.99,224.71 179.49,227.64 180,230.57 180.5,233.5 180.5,243.5 180,245.87 179.49,248.23 178.99,250.6 178.49,251.73 177.99,252.1 177.48,252.47 176.98,252.84 176.48,253.21 175.97,253.58 175.47,253.95 174.97,254.04 174.46,254.08 173.96,254.13 173.46,254.17 172.96,254.22 172.45,254.26 171.95,254.31 171.45,254.35 170.94,254.4 170.44,254.44 169.94,254.49 169.43,254.53 168.93,254.58 168.43,254.62 167.93,254.67 167.42,254.71 166.92,254.76 166.42,254.8 165.91,254.85 165.41,254.89 164.91,254.93 164.4,254.97 163.9,255.01 163.4,255.05 162.9,255.09 162.39,255.13 161.89,255.17 161.39,255.21 160.88,255.25 160.38,255.29 159.88,255.33 159.38,255.36 158.87,255.4 158.37,255.44 157.87,255.48 157.36,255.52 156.86,255.56 156.36,255.6 155.85,255.64 155.35,255.68 154.85,255.65 154.35,255.55 153.84,255.44 153.34,255.34 152.84,255.24 152.33,255.14 151.83,255.03 151.33,254.93 150.82,254.83 150.32,254.73 149.82,254.63 149.32,254.52 148.81,254.54 148.31,254.59 147.81,254.65 147.3,254.7 146.8,254.75 146.3,254.81 145.79,254.86 145.29,254.91 144.79,254.97 144.29,255.02 143.78,255.07 143.28,255.13 142.78,255.18 142.27,255.23 141.77,255.29 141.27,255.34 140.76,255.39 140.26,255.4 139.76,255.4 139.26,255.4 138.75,255.4 138.25,255.4 137.75,255.4 137.24,255.4 136.74,255.4 136.24,255.4 135.74,255.4 135.23,255.4 134.73,255.4 134.23,255.4 133.72,255.4 133.22,255.4 132.72,255.4 132.21,255.41 131.71,255.47 131.21,255.52 130.71,255.58 130.2,255.64 129.7,255.69 129.2,255.75 128.69,255.81 128.19,255.87 127.69,255.92 127.18,255.98 126.68,256 126.18,256 125.68,256 125.17,256 124.67,256 124.17,256 123.66,256 123.16,256 122.66,256.03 122.15,256.42 121.65,256.8 121.15,257.18 120.65,257.57 120.14,257.95 119.64,258.33 119.14,258.71 118.63,259.1 118.13,259.53 117.63,259.99 117.12,260.44 116.62,260.9 116.12,261.35 115.62,261.81 115.11,262.26 114.61,262.72 114.11,263.02 113.6,263.06 113.1,263.11 112.6,263.16 112.1,263.21 111.59,263.25 111.09,263.3 110.59,263.35 110.08,263.39 109.58,263.19 109.08,262.94 108.57,262.69 108.07,262.44 107.57,262.18 107.07,261.93 106.56,261.68 106.06,261.43 105.56,260.99 105.05,260.36 104.55,259.72 104.05,259.09 103.54,258.45 103.04,257.82 102.54,257.18 102.04,256.55 101.53,255.89 101.03,255.03 100.53,254.17 100.02,253.31 99.52,252.45 99.02,251.59 98.51,250.73 98.01,249.29 97.51,247.85 97.01,246.4 96.5,244.95 96,243.5" fill="#f6a4a4" stroke="none" stroke-width="0"/>
<polygon points="96.55,231.15 97.45,231.15 98,234.51 98,241.97 97.45,244.72 96.55,244.72 96,241.97 96,234.51" fill="#f71414" stroke="none" stroke-width="0"/>
<polygon points="99.08,225.41 99.98,225.41 100.53,231.34 100.53,245.2 99.98,250.61 99.08,250.61 98.53,245.2 98.53,231.34" fill="#f71414" stroke="none" stroke-width="0"/>
<line x1="99.73" y1="225.91" x2="99.73" y2="250.11" stroke="#c01c1c" stroke-width="0.6"/>
<polygon points="101.47,219.86 102.37,219.86 102.92,228.29 102.92,247.07 102.37,254.01 101.47,254.01 100.92,247.07 100.92,228.29" fill="#f71414" stroke="none" stroke-width="0"/>
<polygon points="103.95,216.69 104.85,216.69 105.4,226.55 105.4,248.58 104.85,256.74 103.95,256.74 103.4,248.58 103.4,226.55" fill="#f71414" stroke="none" stroke-width="0"/>
<polygon points="106.53,215.5 107.43,215.5 107.98,225.89 107.98,250.59 107.43,260.4 106.53,260.4 105.98,250.59 105.98,225.89" fill="#f71414" stroke="none" stroke-width="0"/>
<line x1="107.18" y1="216" x2="107.18" y2="259.9" stroke="#c01c1c" stroke-width="0.6"/>
<polygon points="109.2,212.45 110.1,212.45 110.65,224.22 110.65,251.11 110.1,261.34 109.2,261.34 108.65,251.11 108.65,224.22" fill="#f71414" stroke="none" stroke-width="0"/>
<polygon points="111.99,213.6 112.89,213.6 113.44,224.85 113.44,250.93 112.89,261.02 111.99,261.02 111.44,250.93 111.44,224.85" fill="#f71414" stroke="none" stroke-width="0"/>
<polygon points="114.67,213.44 115.57,213.44 116.12,224.76 116.12,250.4 115.57,260.06 114.67,260.06 114.12,250.4 114.12,224.76" fill="#f71414" stroke="none" stroke-width="0"/>
<line x1="115.32" y1="213.94" x2="115.32" y2="259.56" stroke="#c01c1c" stroke-width="0.6"/>
<polygon points="117.32,216.24 118.22,216.24 118.77,226.3 118.77,250.09 118.22,259.49 117.32,259.49 116.77,250.09 116.77,226.3" fill="#f71414" stroke="none" stroke-width="0"/>
<polygon points="120.1,218.84 121,218.84 121.55,227.73 121.55,247.92 121,255.54 120.1,255.54 119.55,247.92 119.55,227.73" fill="#f71414" stroke="none" stroke-width="0"/>
<polygon points="122.89,221.09 123.79,221.09 124.34,228.97 124.34,246.74 123.79,253.4 122.89,253.4 122.34,246.74 122.34,228.97" fill="#f71414" stroke="none" stroke-width="0"/>
<line x1="123.54" y1="221.59" x2="123.54" y2="252.9" stroke="#c01c1c" stroke-width="0.6"/>
<polygon points="125.44,221.3 126.34,221.3 126.89,229.09 126.89,247.39 126.34,254.59 125.44,254.59 124.89,247.39 124.89,229.09" fill="#f71414" stroke="none" stroke-width="0"/>
<polygon points="128.25,221.18 129.15,221.18 129.7,229.02 129.7,247.76 129.15,255.26 128.25,255.26 127.7,247.76 127.7,229.02" fill="#f71414" stroke="none" stroke-width="0"/>
<polygon points="130.67,219.06 131.57,219.06 132.12,227.86 132.12,246.42 131.57,252.82 130.67,252.82 130.12,246.42 130.12,227.86" fill="#f71414" stroke="none" stroke-width="0"/>
<line x1="131.32" y1="219.56" x2="131.32" y2="252.32" stroke="#c01c1c" stroke-width="0.6"/>
<polygon points="133.24,219.97 134.14,219.97 134.69,228.35 134.69,247.26 134.14,254.35 133.24,254.35 132.69,247.26 132.69,228.35" fill="#f71414" stroke="none" stroke-width="0"/>
<polygon points="135.84,219.55 136.74,219.55 137.29,228.12 137.29,247.19 136.74,254.22 135.84,254.22 135.29,247.19 135.29,228.12" fill="#f71414" stroke="none" stroke-width="0"/>
<polygon points="138.49,220.23 139.39,220.23 139.94,228.5 139.94,246.43 139.39,252.84 138.49,252.84 137.94,246.43 137.94,228.5" fill="#f71414" stroke="none" stroke-width="0"/>
<line x1="139.14" y1="220.73" x2="139.14" y2="252.34" stroke="#c01c1c" stroke-width="0.6"/>
<polygon points="141.18,221.32 142.08,221.32 142.63,229.1 142.63,246.44 142.08,252.86 141.18,252.86 140.63,246.44 140.63,229.1" fill="#f71414" stroke="none" stroke-width="0"/>
<polygon points="144.02,220.98 144.92,220.98 145.47,228.91 145.47,247.23 144.92,254.29 144.02,254.29 143.47,247.23 143.47,228.91" fill="#f71414" stroke="none" stroke-width="0"/>
<polygon points="146.8,222.01 147.7,222.01 148.25,229.47 148.25,246.05 147.7,252.14 146.8,252.14 146.25,246.05 146.25,229.47" fill="#f71414" stroke="none" stroke-width="0"/>
<line x1="147.45" y1="222.51" x2="147.45" y2="251.64" stroke="#c01c1c" stroke-width="0.6"/>
<polygon points="149.44,221.51 150.34,221.51 150.89,229.2 150.89,246.97 150.34,253.81 149.44,253.81 148.89,246.97 148.89,229.2" fill="#f71414" stroke="none" stroke-width="0"/>
<polygon points="152.2,220.88 153.1,220.88 153.65,228.86 153.65,247.17 153.1,254.19 152.2,254.19 151.65,247.17 151.65,228.86" fill="#f71414" stroke="none" stroke-width="0"/>
<polygon points="154.59,221.34 155.49,221.34 156.04,229.11 156.04,246.47 155.49,252.91 154.59,252.91 154.04,246.47 154.04,229.11" fill="#f71414" stroke="none" stroke-width="0"/>
<line x1="155.24" y1="221.84" x2="155.24" y2="252.41" stroke="#c01c1c" stroke-width="0.6"/>
<polygon points="156.98,221.32 157.88,221.32 158.43,229.09 158.43,247.18 157.88,254.19 156.98,254.19 156.43,247.18 156.43,229.09" fill="#f71414" stroke="none" stroke-width="0"/>
<polygon points="159.41,220.17 160.31,220.17 160.86,228.46 160.86,246.58 160.31,253.11 159.41,253.11 158.86,246.58 158.86,228.46" fill="#f71414" stroke="none" stroke-width="0"/>
<polygon points="162.19,219.68 163.09,219.68 163.64,228.19 163.64,246.67 163.09,253.27 162.19,253.27 161.64,246.67 161.64,228.19" fill="#f71414" stroke="none" stroke-width="0"/>
<line x1="162.84" y1="220.18" x2="162.84" y2="252.77" stroke="#c01c1c" stroke-width="0.6"/>
<polygon points="164.56,221.48 165.46,221.48 166.01,229.19 166.01,246.96 165.46,253.8 164.56,253.8 164.01,246.96 164.01,229.19" fill="#f71414" stroke="none" stroke-width="0"/>
<polygon points="167.35,222.55 168.25,222.55 168.8,229.77 168.8,246.58 168.25,253.11 167.35,253.11 166.8,246.58 166.8,229.77" fill="#f71414" stroke="none" stroke-width="0"/>
<polygon points="170.2,221.32 171.1,221.32 171.65,229.1 171.65,247.03 171.1,253.93 170.2,253.93 169.65,247.03 169.65,229.1" fill="#f71414" stroke="none" stroke-width="0"/>
<line x1="170.85" y1="221.82" x2="170.85" y2="253.43" stroke="#c01c1c" stroke-width="0.6"/>
<polygon points="172.85,221.05 173.75,221.05 174.3,228.95 174.3,246.74 173.75,253.39 172.85,253.39 172.3,246.74 172.3,228.95" fill="#f71414" stroke="none" stroke-width="0"/>
<polygon points="175.41,223.18 176.31,223.18 176.86,230.12 176.86,246.51 176.31,252.97 175.41,252.97 174.86,246.51 174.86,230.12" fill="#f71414" stroke="none" stroke-width="0"/>
<polygon points="177.78,225.63 178.68,225.63 179.23,231.47 179.23,245.33 178.68,250.84 177.78,250.84 177.23,245.33 177.23,231.47" fill="#f71414" stroke="none" stroke-width="0"/>
<line x1="178.43" y1="226.13" x2="178.43" y2="250.34" stroke="#c01c1c" stroke-width="0.6"/>
<polygon points="96,237.07 96.5,236.58 97.01,236.09 97.51,235.6 98.01,235.11 98.51,234.63 99.02,234.37 99.52,234.11 100.02,233.84 100.53,233.58 101.03,233.32 101.53,233.06 102.04,232.82 102.54,232.6 103.04,232.37 103.54,232.14 104.05,231.92 104.55,231.69 105.05,231.47 105.56,231.24 106.06,231.09 106.56,231.02 107.07,230.94 107.57,230.86 108.07,230.79 108.57,230.71 109.08,230.64 109.58,230.56 110.08,230.5 110.59,230.53 111.09,230.55 111.59,230.58 112.1,230.6 112.6,230.63 113.1,230.65 113.6,230.68 114.11,230.7 114.61,230.79 115.11,230.91 115.62,231.04 116.12,231.16 116.62,231.29 117.12,231.42 117.63,231.54 118.13,231.67 118.63,231.79 119.14,231.91 119.64,232.02 120.14,232.14 120.65,232.25 121.15,232.37 121.65,232.48 122.15,232.6 122.66,232.71 123.16,232.72 123.66,232.72 124.17,232.72 124.67,232.72 125.17,232.72 125.68,232.72 126.18,232.72 126.68,232.72 127.18,232.71 127.69,232.68 128.19,232.65 128.69,232.62 129.2,232.6 129.7,232.57 130.2,232.54 130.71,232.51 131.21,232.48 131.71,232.45 132.21,232.42 132.72,232.43 133.22,232.44 133.72,232.45 134.23,232.46 134.73,232.47 135.23,232.48 135.74,232.49 136.24,232.5 136.74,232.52 137.24,232.53 137.75,232.54 138.25,232.55 138.75,232.56 139.26,232.57 139.76,232.58 140.26,232.59 140.76,232.6 141.27,232.62 141.77,232.63 142.27,232.65 142.78,232.67 143.28,232.68 143.78,232.7 144.29,232.71 144.79,232.73 145.29,232.75 145.79,232.76 146.3,232.78 146.8,232.79 147.3,232.81 147.81,232.83 148.31,232.84 148.81,232.86 149.32,232.87 149.82,232.85 150.32,232.84 150.82,232.82 151.33,232.81 151.83,232.79 152.33,232.77 152.84,232.76 153.34,232.74 153.84,232.73 154.35,232.71 154.85,232.7 155.35,232.69 155.85,232.7 156.36,232.71 156.86,232.72 157.36,232.72 157.87,232.73 158.37,232.74 158.87,232.75 159.38,232.75 159.88,232.76 160.38,232.77 160.88,232.78 161.39,232.78 161.89,232.79 162.39,232.8 162.9,232.8 163.4,232.81 163.9,232.82 164.4,232.83 164.91,232.83 165.41,232.85 165.91,232.87 166.42,232.89 166.92,232.92 167.42,232.94 167.93,232.96 168.43,232.99 168.93,233.01 169.43,233.04 169.94,233.06 170.44,233.08 170.94,233.11 171.45,233.13 171.95,233.16 172.45,233.18 172.96,233.2 173.46,233.23 173.96,233.25 174.46,233.28 174.97,233.3 175.47,233.34 175.97,233.45 176.48,233.57 176.98,233.68 177.48,233.8 177.99,233.91 178.49,234.03 178.99,234.43 179.49,235.31 180,236.19 180.5,237.07 180.5,240.07 180,240.78 179.49,241.49 178.99,242.2 178.49,242.54 177.99,242.65 177.48,242.76 176.98,242.87 176.48,242.98 175.97,243.09 175.47,243.2 174.97,243.23 174.46,243.25 173.96,243.26 173.46,243.27 172.96,243.29 172.45,243.3 171.95,243.31 171.45,243.33 170.94,243.34 170.44,243.35 169.94,243.37 169.43,243.38 168.93,243.39 168.43,243.41 167.93,243.42 167.42,243.43 166.92,243.45 166.42,243.46 165.91,243.47 165.41,243.49 164.91,243.5 164.4,243.51 163.9,243.52 163.4,243.53 162.9,243.55 162.39,243.56 161.89,243.57 161.39,243.58 160.88,243.59 160.38,243.61 159.88,243.62 159.38,243.63 158.87,243.64 158.37,243.65 157.87,243.66 157.36,243.68 156.86,243.69 156.36,243.7 155.85,243.71 155.35,243.72 154.85,243.71 154.35,243.68 153.84,243.65 153.34,243.62 152.84,243.59 152.33,243.56 151.83,243.53 151.33,243.5 150.82,243.47 150.32,243.44 149.82,243.41 149.32,243.38 148.81,243.38 148.31,243.4 147.81,243.41 147.3,243.43 146.8,243.45 146.3,243.46 145.79,243.48 145.29,243.49 144.79,243.51 144.29,243.53 143.78,243.54 143.28,243.56 142.78,243.57 142.27,243.59 141.77,243.61 141.27,243.62 140.76,243.64 140.26,243.64 139.76,243.64 139.26,243.64 138.75,243.64 138.25,243.64 137.75,243.64 137.24,243.64 136.74,243.64 136.24,243.64 135.74,243.64 135.23,243.64 134.73,243.64 134.23,243.64 133.72,243.64 133.22,243.64 132.72,243.64 132.21,243.64 131.71,243.66 131.21,243.68 130.71,243.69 130.2,243.71 129.7,243.73 129.2,243.75 128.69,243.76 128.19,243.78 127.69,243.8 127.18,243.81 126.68,243.82 126.18,243.82 125.68,243.82 125.17,243.82 124.67,243.82 124.17,243.82 123.66,243.82 123.16,243.82 122.66,243.83 122.15,243.94 121.65,244.06 121.15,244.17 120.65,244.29 120.14,244.4 119.64,244.52 119.14,244.63 118.63,244.75 118.13,244.88 117.63,245.02 117.12,245.15 116.62,245.29 116.12,245.43 115.62,245.56 115.11,245.7 114.61,245.84 114.11,245.93 113.6,245.94 113.1,245.95 112.6,245.97 112.1,245.98 111.59,246 111.09,246.01 110.59,246.02 110.08,246.04 109.58,245.98 109.08,245.9 108.57,245.83 108.07,245.75 107.57,245.68 107.07,245.6 106.56,245.52 106.06,245.45 105.56,245.32 105.05,245.13 104.55,244.94 104.05,244.75 103.54,244.56 103.04,244.37 102.54,244.18 102.04,243.98 101.53,243.79 101.03,243.53 100.53,243.27 100.02,243.01 99.52,242.75 99.02,242.5 98.51,242.24 98.01,241.81 97.51,241.37 97.01,240.94 96.5,240.5 96,240.07" fill="#f51010" stroke="none" stroke-width="0"/>
<line x1="428.5" y1="71.7" x2="463" y2="71.7" stroke="#e85050" stroke-width="0.9"/>
<polygon points="558,67.64 558.34,67.29 558.67,67.11 559.01,67.14 559.34,67.35 559.68,67.75 560.01,68.32 560.35,68.55 560.68,68.56 561.02,68.56 561.36,68.57 561.69,68.58 562.03,68.58 562.36,68.59 562.7,68.35 563.03,68.05 563.37,67.91 563.71,67.93 564.04,68.11 564.38,68.43 564.71,68.64 565.05,68.65 565.38,68.66 565.72,68.66 566.05,68.67 566.39,68.68 566.73,68.68 567.06,68.69 567.4,68.7 567.73,68.7 568.07,68.71 568.4,68.65 568.74,68.37 569.07,68.18 569.41,68.1 569.75,68.13 570.08,68.26 570.42,68.48 570.75,68.77 571.09,68.78 571.42,68.78 571.76,68.79 572.09,68.8 572.43,68.8 572.77,68.81 573.1,68.82 573.44,68.82 573.77,68.83 574.11,68.84 574.44,68.68 574.78,68.53 575.12,68.51 575.45,68.62 575.79,68.86 576.12,68.88 576.46,68.89 576.79,68.9 577.13,68.93 577.46,69.02 577.8,69.09 578.14,68.67 578.47,68.38 578.81,68.22 579.14,68.21 579.48,68.35 579.81,68.62 580.15,69.02 580.48,69.53 580.82,69.86 581.16,69.9 581.49,69.91 581.83,69.91 582.16,69.92 582.5,69.92 582.83,69.92 583.17,69.93 583.51,69.93 583.84,69.94 584.18,69.94 584.51,69.95 584.85,69.95 585.18,69.73 585.52,69.5 585.85,69.33 586.19,69.23 586.53,69.2 586.86,69.24 587.2,69.35 587.53,69.53 587.87,69.77 588.2,69.99 588.54,70 588.87,70 589.21,70.01 589.55,70.01 589.88,70.02 590.22,70.02 590.55,70.03 590.89,70.03 591.22,70.03 591.56,70.04 591.89,70.04 592.23,70.05 592.57,70.05 592.9,70.06 593.24,70.06 593.57,70.07 593.91,70.07 594.24,70.07 594.58,70.08 594.92,70.08 595.25,70.09 595.59,70.09 595.92,70.1 596.26,70.1 596.59,70.11 596.93,70.11 597.26,70.11 597.6,70.12 597.94,70.12 598.27,70.11 598.61,69.9 598.94,69.75 599.28,69.65 599.61,69.6 599.95,69.62 600.28,69.69 600.62,69.82 600.96,70 601.29,70.16 601.63,70.16 601.96,70.16 602.3,70.17 602.63,70.17 602.97,70.17 603.31,70.17 603.64,70.17 603.98,70.18 604.31,70.18 604.65,70.18 604.98,70.18 605.32,70.19 605.65,70.19 605.99,70.17 606.33,69.93 606.66,69.74 607,69.6 607.33,69.52 607.67,69.5 608,69.54 608.34,69.65 608.67,69.81 609.01,70.02 609.35,70.21 609.68,70.22 610.02,70.22 610.35,70.22 610.69,70.22 611.02,70.22 611.36,70.12 611.69,69.91 612.03,69.75 612.37,69.65 612.7,69.6 613.04,69.61 613.37,69.68 613.71,69.81 614.04,69.99 614.38,70.21 614.72,70.25 615.05,70.25 615.39,70.25 615.72,70.26 616.06,70.26 616.39,70.26 616.73,70.26 617.06,70.27 617.4,70.27 617.74,70.27 618.07,70.27 618.41,70.27 618.74,70.23 619.08,70.08 619.41,69.97 619.75,69.91 620.08,69.9 620.42,69.94 620.76,70.02 621.09,70.15 621.43,70.29 621.76,70.3 622.1,70.3 622.43,70.3 622.77,70.3 623.11,70.31 623.44,70.31 623.78,70.31 624.11,70.31 624.45,70.32 624.78,70.32 625.12,70.32 625.45,70.12 625.79,69.89 626.13,69.71 626.46,69.58 626.8,69.51 627.13,69.5 627.47,69.56 627.8,69.67 628.14,69.85 628.47,70.07 628.81,70.33 629.15,70.35 629.48,70.35 629.82,70.29 630.15,70.05 630.49,69.86 630.82,69.72 631.16,69.63 631.49,69.6 631.83,69.63 632.17,69.71 632.5,69.86 632.84,70.05 633.17,70.28 633.51,70.38 633.84,70.38 634.18,70.38 634.52,70.38 634.85,70.39 635.19,70.39 635.52,70.39 635.86,70.39 636.19,70.39 636.53,70.4 636.86,70.4 637.2,70.4 637.2,72.6 636.86,72.6 636.53,72.6 636.19,72.61 635.86,72.61 635.52,72.61 635.19,72.61 634.85,72.61 634.52,72.62 634.18,72.62 633.84,72.62 633.51,72.62 633.17,72.72 632.84,72.95 632.5,73.14 632.17,73.29 631.83,73.37 631.49,73.4 631.16,73.37 630.82,73.28 630.49,73.14 630.15,72.95 629.82,72.71 629.48,72.65 629.15,72.65 628.81,72.67 628.47,72.93 628.14,73.15 627.8,73.33 627.47,73.44 627.13,73.5 626.8,73.49 626.46,73.42 626.13,73.29 625.79,73.11 625.45,72.88 625.12,72.68 624.78,72.68 624.45,72.68 624.11,72.69 623.78,72.69 623.44,72.69 623.11,72.69 622.77,72.7 622.43,72.7 622.1,72.7 621.76,72.7 621.43,72.71 621.09,72.85 620.76,72.98 620.42,73.06 620.08,73.1 619.75,73.09 619.41,73.03 619.08,72.92 618.74,72.77 618.41,72.73 618.07,72.73 617.74,72.73 617.4,72.73 617.06,72.73 616.73,72.74 616.39,72.74 616.06,72.74 615.72,72.74 615.39,72.75 615.05,72.75 614.72,72.75 614.38,72.79 614.04,73.01 613.71,73.19 613.37,73.32 613.04,73.39 612.7,73.4 612.37,73.35 612.03,73.25 611.69,73.09 611.36,72.88 611.02,72.78 610.69,72.78 610.35,72.78 610.02,72.78 609.68,72.78 609.35,72.79 609.01,72.98 608.67,73.19 608.34,73.35 608,73.46 607.67,73.5 607.33,73.48 607,73.4 606.66,73.26 606.33,73.07 605.99,72.83 605.65,72.81 605.32,72.81 604.98,72.82 604.65,72.82 604.31,72.82 603.98,72.82 603.64,72.83 603.31,72.83 602.97,72.83 602.63,72.83 602.3,72.83 601.96,72.84 601.63,72.84 601.29,72.84 600.96,73 600.62,73.18 600.28,73.31 599.95,73.38 599.61,73.4 599.28,73.35 598.94,73.25 598.61,73.1 598.27,72.89 597.94,72.88 597.6,72.88 597.26,72.89 596.93,72.89 596.59,72.89 596.26,72.9 595.92,72.9 595.59,72.91 595.25,72.91 594.92,72.92 594.58,72.92 594.24,72.93 593.91,72.93 593.57,72.93 593.24,72.94 592.9,72.94 592.57,72.95 592.23,72.95 591.89,72.96 591.56,72.96 591.22,72.97 590.89,72.97 590.55,72.97 590.22,72.98 589.88,72.98 589.55,72.99 589.21,72.99 588.87,73 588.54,73 588.2,73.01 587.87,73.23 587.53,73.47 587.2,73.65 586.86,73.76 586.53,73.8 586.19,73.77 585.85,73.67 585.52,73.5 585.18,73.27 584.85,73.05 584.51,73.05 584.18,73.06 583.84,73.06 583.51,73.07 583.17,73.07 582.83,73.08 582.5,73.08 582.16,73.08 581.83,73.09 581.49,73.09 581.16,73.1 580.82,73.14 580.48,73.47 580.15,73.98 579.81,74.38 579.48,74.65 579.14,74.79 578.81,74.78 578.47,74.62 578.14,74.33 577.8,73.91 577.46,73.98 577.13,74.07 576.79,74.1 576.46,74.11 576.12,74.12 575.79,74.14 575.45,74.38 575.12,74.49 574.78,74.47 574.44,74.32 574.11,74.16 573.77,74.17 573.44,74.18 573.1,74.18 572.77,74.19 572.43,74.2 572.09,74.2 571.76,74.21 571.42,74.22 571.09,74.22 570.75,74.23 570.42,74.52 570.08,74.74 569.75,74.87 569.41,74.9 569.07,74.82 568.74,74.63 568.4,74.35 568.07,74.29 567.73,74.3 567.4,74.3 567.06,74.31 566.73,74.32 566.39,74.32 566.05,74.33 565.72,74.34 565.38,74.34 565.05,74.35 564.71,74.36 564.38,74.57 564.04,74.89 563.71,75.07 563.37,75.09 563.03,74.95 562.7,74.65 562.36,74.41 562.03,74.42 561.69,74.42 561.36,74.43 561.02,74.44 560.68,74.44 560.35,74.45 560.01,74.68 559.68,75.25 559.34,75.65 559.01,75.86 558.67,75.89 558.34,75.71 558,75.36" fill="#f41c1c" stroke="none" stroke-width="0"/>
<polygon points="462.4,64.6 463.2,64.6 464,64.24 464.8,63.55 465.6,58.43 466.4,58.95 467.2,55.41 468,57.05 468.8,52.8 469.6,53.93 470.4,50.13 471.2,50.86 472,47.66 472.8,48.36 473.6,46.56 474.4,49.5 475.2,45.74 476,48.72 476.8,45.54 477.6,47.08 478.4,45.34 479.2,48.27 480,46.47 480.8,49.74 481.6,47.9 482.4,49.52 483.2,49.78 484,54.53 484.8,52.39 485.6,56.04 486.4,53.7 487.2,54.21 488,53.48 488.8,56.46 489.6,52.79 490.4,54.04 491.2,52.33 492,53.69 492.8,52.17 493.6,53.89 494.4,52 495.2,54.18 496,51.84 496.8,52.87 497.6,52.1 498.4,54.04 499.2,52.5 500,54.69 500.8,52.97 501.6,55.71 502.4,53.5 503.2,56.83 504,54.03 504.8,56.5 505.6,54.4 506.4,56.7 507.2,54.4 508,57.23 508.8,54.4 509.6,55.4 510.4,54.3 511.2,57.36 512,53.74 512.8,55.24 513.6,53.5 514.4,54.82 515.2,53.5 516,54.54 516.8,53.5 517.6,55.46 518.4,53.7 519.2,56.25 520,53.91 520.8,56.85 521.6,54.12 522.4,55.77 523.2,54.33 524,55.07 524.8,54.95 525.6,56.84 526.4,55.75 527.2,56.89 528,56.55 528.8,59.34 529.6,58.67 530.4,63.34 531.2,61.8 532,64.76 532.8,67.91 533,68.7 533,74.6 532.8,75.2 532,77.6 531.2,80.08 530.4,80.04 529.6,84.49 528.8,84.21 528,87.27 527.2,86.81 526.4,89.12 525.6,87.82 524.8,89.44 524,86.96 523.2,89.76 522.4,88.12 521.6,90.08 520.8,88.3 520,90.4 519.2,87.5 518.4,90.53 517.6,89.6 516.8,90.66 516,89.86 515.2,90.78 514.4,88.29 513.6,90.44 512.8,88.99 512,90.02 511.2,88.01 510.4,89.6 509.6,86.63 508.8,89.65 508,88.97 507.2,89.86 506.4,89.12 505.6,90.07 504.8,88.55 504,90.27 503.2,89.43 502.4,90.61 501.6,88.79 500.8,91.17 500,88.5 499.2,91.73 498.4,91.4 497.6,92.29 496.8,91.3 496,92.38 495.2,89.25 494.4,92.18 493.6,91.39 492.8,91.98 492,89.74 491.2,91.79 490.4,88.46 489.6,91.3 488.8,89.53 488,90.58 487.2,89.32 486.4,89.86 485.6,88.87 484.8,91.02 484,89.13 483.2,94.06 482.4,92.55 481.6,95.94 480.8,94.05 480,97.13 479.2,95.86 478.4,97.88 477.6,95.95 476.8,96.72 476,93.83 475.2,95.56 474.4,94.26 473.6,94.06 472.8,89.88 472,92.41 471.2,89.74 470.4,89.91 469.6,87.63 468.8,87.3 468,83.26 467.2,85.17 466.4,82.98 465.6,82.78 464.8,78.93 464,78.66 463.2,78.4 462.4,78.4" fill="#fa0f0f" stroke="none" stroke-width="0"/>
<line x1="463.5" y1="64.3" x2="463.5" y2="68.55" stroke="#ffb0b0" stroke-width="0.8"/>
<line x1="463.5" y1="73.57" x2="463.5" y2="78.7" stroke="#ffb0b0" stroke-width="0.8"/>
<line x1="466.5" y1="56.83" x2="466.5" y2="66.27" stroke="#ffb0b0" stroke-width="0.8"/>
<line x1="466.5" y1="75.68" x2="466.5" y2="84.06" stroke="#ffb0b0" stroke-width="0.8"/>
<line x1="468.5" y1="53.51" x2="468.5" y2="64.66" stroke="#ffb0b0" stroke-width="0.8"/>
<line x1="468.5" y1="77.45" x2="468.5" y2="86.78" stroke="#ffb0b0" stroke-width="0.8"/>
<line x1="470.5" y1="49.79" x2="470.5" y2="63.14" stroke="#ffb0b0" stroke-width="0.8"/>
<line x1="470.5" y1="78.53" x2="470.5" y2="90.25" stroke="#ffb0b0" stroke-width="0.8"/>
<line x1="472.5" y1="46.85" x2="472.5" y2="63.41" stroke="#ffb0b0" stroke-width="0.8"/>
<line x1="472.5" y1="81.25" x2="472.5" y2="93.48" stroke="#ffb0b0" stroke-width="0.8"/>
<line x1="475.5" y1="45.46" x2="475.5" y2="65.28" stroke="#ffb0b0" stroke-width="0.8"/>
<line x1="475.5" y1="80.28" x2="475.5" y2="95.73" stroke="#ffb0b0" stroke-width="0.8"/>
<line x1="477.5" y1="45.21" x2="477.5" y2="61.51" stroke="#ffb0b0" stroke-width="0.8"/>
<line x1="477.5" y1="79.81" x2="477.5" y2="97.19" stroke="#ffb0b0" stroke-width="0.8"/>
<line x1="479.5" y1="45.33" x2="479.5" y2="61.86" stroke="#ffb0b0" stroke-width="0.8"/>
<line x1="479.5" y1="81.48" x2="479.5" y2="98.13" stroke="#ffb0b0" stroke-width="0.8"/>
<line x1="481.5" y1="47.37" x2="481.5" y2="65.37" stroke="#ffb0b0" stroke-width="0.8"/>
<line x1="481.5" y1="80.01" x2="481.5" y2="96.44" stroke="#ffb0b0" stroke-width="0.8"/>
<line x1="483.5" y1="50.15" x2="483.5" y2="63.2" stroke="#ffb0b0" stroke-width="0.8"/>
<line x1="483.5" y1="79.95" x2="483.5" y2="93.58" stroke="#ffb0b0" stroke-width="0.8"/>
<line x1="485.5" y1="53.4" x2="485.5" y2="65.53" stroke="#ffb0b0" stroke-width="0.8"/>
<line x1="485.5" y1="77.16" x2="485.5" y2="89.93" stroke="#ffb0b0" stroke-width="0.8"/>
<line x1="488.5" y1="53.05" x2="488.5" y2="64.2" stroke="#ffb0b0" stroke-width="0.8"/>
<line x1="488.5" y1="78.62" x2="488.5" y2="91.01" stroke="#ffb0b0" stroke-width="0.8"/>
<line x1="490.5" y1="52.06" x2="490.5" y2="62.7" stroke="#ffb0b0" stroke-width="0.8"/>
<line x1="490.5" y1="80.69" x2="490.5" y2="92.04" stroke="#ffb0b0" stroke-width="0.8"/>
<line x1="493.5" y1="51.82" x2="493.5" y2="64.67" stroke="#ffb0b0" stroke-width="0.8"/>
<line x1="493.5" y1="79.24" x2="493.5" y2="92.33" stroke="#ffb0b0" stroke-width="0.8"/>
<line x1="495.5" y1="51.58" x2="495.5" y2="65.12" stroke="#ffb0b0" stroke-width="0.8"/>
<line x1="495.5" y1="80.01" x2="495.5" y2="92.62" stroke="#ffb0b0" stroke-width="0.8"/>
<line x1="498.5" y1="51.91" x2="498.5" y2="65.78" stroke="#ffb0b0" stroke-width="0.8"/>
<line x1="498.5" y1="80.1" x2="498.5" y2="92.43" stroke="#ffb0b0" stroke-width="0.8"/>
<line x1="500.5" y1="52.59" x2="500.5" y2="65.14" stroke="#ffb0b0" stroke-width="0.8"/>
<line x1="500.5" y1="77.93" x2="500.5" y2="91.55" stroke="#ffb0b0" stroke-width="0.8"/>
<line x1="502.5" y1="53.27" x2="502.5" y2="66.2" stroke="#ffb0b0" stroke-width="0.8"/>
<line x1="502.5" y1="78.09" x2="502.5" y2="90.84" stroke="#ffb0b0" stroke-width="0.8"/>
<line x1="505.5" y1="54.1" x2="505.5" y2="66.84" stroke="#ffb0b0" stroke-width="0.8"/>
<line x1="505.5" y1="79.78" x2="505.5" y2="90.42" stroke="#ffb0b0" stroke-width="0.8"/>
<line x1="507.5" y1="54.1" x2="507.5" y2="63.57" stroke="#ffb0b0" stroke-width="0.8"/>
<line x1="507.5" y1="78.43" x2="507.5" y2="90.11" stroke="#ffb0b0" stroke-width="0.8"/>
<line x1="510.5" y1="54.09" x2="510.5" y2="63.76" stroke="#ffb0b0" stroke-width="0.8"/>
<line x1="510.5" y1="79.26" x2="510.5" y2="89.83" stroke="#ffb0b0" stroke-width="0.8"/>
<line x1="512.5" y1="53.38" x2="512.5" y2="63.45" stroke="#ffb0b0" stroke-width="0.8"/>
<line x1="512.5" y1="80.05" x2="512.5" y2="90.37" stroke="#ffb0b0" stroke-width="0.8"/>
<line x1="514.5" y1="53.2" x2="514.5" y2="66.51" stroke="#ffb0b0" stroke-width="0.8"/>
<line x1="514.5" y1="77.64" x2="514.5" y2="90.9" stroke="#ffb0b0" stroke-width="0.8"/>
<line x1="516.5" y1="53.2" x2="516.5" y2="65.51" stroke="#ffb0b0" stroke-width="0.8"/>
<line x1="516.5" y1="78.43" x2="516.5" y2="90.98" stroke="#ffb0b0" stroke-width="0.8"/>
<line x1="518.5" y1="53.45" x2="518.5" y2="64.38" stroke="#ffb0b0" stroke-width="0.8"/>
<line x1="518.5" y1="78.47" x2="518.5" y2="90.79" stroke="#ffb0b0" stroke-width="0.8"/>
<line x1="521.5" y1="53.76" x2="521.5" y2="63.9" stroke="#ffb0b0" stroke-width="0.8"/>
<line x1="521.5" y1="79.49" x2="521.5" y2="90.47" stroke="#ffb0b0" stroke-width="0.8"/>
<line x1="523.5" y1="54.08" x2="523.5" y2="65.45" stroke="#ffb0b0" stroke-width="0.8"/>
<line x1="523.5" y1="79.88" x2="523.5" y2="89.99" stroke="#ffb0b0" stroke-width="0.8"/>
<line x1="525.5" y1="55.2" x2="525.5" y2="66.92" stroke="#ffb0b0" stroke-width="0.8"/>
<line x1="525.5" y1="77.09" x2="525.5" y2="89.52" stroke="#ffb0b0" stroke-width="0.8"/>
<line x1="528.5" y1="56.4" x2="528.5" y2="64.32" stroke="#ffb0b0" stroke-width="0.8"/>
<line x1="528.5" y1="77.73" x2="528.5" y2="87.06" stroke="#ffb0b0" stroke-width="0.8"/>
<line x1="530.5" y1="59.83" x2="530.5" y2="65.81" stroke="#ffb0b0" stroke-width="0.8"/>
<line x1="530.5" y1="76.57" x2="530.5" y2="83.03" stroke="#ffb0b0" stroke-width="0.8"/>
<polygon points="532.5,70 533.3,68.53 534.1,67.07 534.9,66.87 535.7,64.23 536.5,65.21 537.3,62.05 538.1,62.43 538.9,60.82 539.7,61.39 540.5,60.33 541.3,61.87 542.1,60.3 542.9,61.72 543.7,62.08 544.5,63.75 545.3,64.12 546.1,66.93 546.9,66.45 547.7,69.82 548.5,68.85 549.3,69.76 550.1,70.18 550.7,70.5 550.7,73 550.1,73.56 549.3,74.32 548.5,75.35 547.7,74.41 546.9,77.75 546.1,78.38 545.3,80.09 544.5,79.26 543.7,82.18 542.9,82.2 542.1,84.09 541.3,82.62 540.5,84.73 539.7,82.84 538.9,83.69 538.1,81.67 537.3,81.92 536.5,79.29 535.7,79.24 534.9,76.37 534.1,76.38 533.3,74.94 532.5,73.5" fill="#fa0f0f" stroke="none" stroke-width="0"/>
<line x1="533.5" y1="67.5" x2="533.5" y2="71.6" stroke="#ffb0b0" stroke-width="0.8"/>
<line x1="533.5" y1="71.98" x2="533.5" y2="75.96" stroke="#ffb0b0" stroke-width="0.8"/>
<line x1="535.5" y1="63.8" x2="535.5" y2="67.44" stroke="#ffb0b0" stroke-width="0.8"/>
<line x1="535.5" y1="74" x2="535.5" y2="79.69" stroke="#ffb0b0" stroke-width="0.8"/>
<line x1="537.5" y1="61.03" x2="537.5" y2="66.88" stroke="#ffb0b0" stroke-width="0.8"/>
<line x1="537.5" y1="76.66" x2="537.5" y2="83.11" stroke="#ffb0b0" stroke-width="0.8"/>
<line x1="539.5" y1="60.23" x2="539.5" y2="67.58" stroke="#ffb0b0" stroke-width="0.8"/>
<line x1="539.5" y1="76.56" x2="539.5" y2="84.61" stroke="#ffb0b0" stroke-width="0.8"/>
<line x1="542.5" y1="60.07" x2="542.5" y2="67.73" stroke="#ffb0b0" stroke-width="0.8"/>
<line x1="542.5" y1="75.61" x2="542.5" y2="84.23" stroke="#ffb0b0" stroke-width="0.8"/>
<line x1="544.5" y1="63" x2="544.5" y2="69.6" stroke="#ffb0b0" stroke-width="0.8"/>
<line x1="544.5" y1="74.97" x2="544.5" y2="81.23" stroke="#ffb0b0" stroke-width="0.8"/>
<line x1="546.5" y1="66.03" x2="546.5" y2="72.27" stroke="#ffb0b0" stroke-width="0.8"/>
<line x1="546.5" y1="71.49" x2="546.5" y2="78.17" stroke="#ffb0b0" stroke-width="0.8"/>
<line x1="549.5" y1="69.47" x2="549.5" y2="72.69" stroke="#ffb0b0" stroke-width="0.8"/>
<line x1="549.5" y1="72.54" x2="549.5" y2="74.59" stroke="#ffb0b0" stroke-width="0.8"/>
<polygon points="550.3,70 551.1,68.82 551.9,67.65 552.7,67.76 553.5,66.48 554.3,66.77 555.1,66.01 555.9,66.8 556.7,66.7 557.5,68.14 558.3,68.3 559.1,68.95 559.9,69.55 560.5,70 560.5,73.5 559.9,74.1 559.1,74.9 558.3,75.73 557.5,75.74 556.7,77.57 555.9,77.26 555.1,78.15 554.3,77.58 553.5,77.58 552.7,76.18 551.9,76.32 551.1,74.91 550.3,73.5" fill="#fa0f0f" stroke="none" stroke-width="0"/>
<line x1="551.5" y1="67.94" x2="551.5" y2="71.93" stroke="#ffb0b0" stroke-width="0.8"/>
<line x1="551.5" y1="72.02" x2="551.5" y2="75.92" stroke="#ffb0b0" stroke-width="0.8"/>
<line x1="553.5" y1="65.95" x2="553.5" y2="70.93" stroke="#ffb0b0" stroke-width="0.8"/>
<line x1="553.5" y1="74.79" x2="553.5" y2="78.12" stroke="#ffb0b0" stroke-width="0.8"/>
<line x1="556.5" y1="66.06" x2="556.5" y2="69.03" stroke="#ffb0b0" stroke-width="0.8"/>
<line x1="556.5" y1="71.86" x2="556.5" y2="78.2" stroke="#ffb0b0" stroke-width="0.8"/>
<line x1="558.5" y1="67.83" x2="558.5" y2="72.39" stroke="#ffb0b0" stroke-width="0.8"/>
<line x1="558.5" y1="74.21" x2="558.5" y2="76.22" stroke="#ffb0b0" stroke-width="0.8"/>
<line x1="428.2" y1="181.9" x2="463" y2="181.9" stroke="#3030c0" stroke-width="0.9"/>
<polygon points="531.5,179.6 531.83,179.6 532.17,179.61 532.5,179.61 532.84,179.61 533.17,179.62 533.51,179.62 533.84,179.62 534.18,178.43 534.51,177.17 534.84,176.12 535.18,175.33 535.51,174.81 535.85,174.6 536.18,174.71 536.52,175.13 536.85,175.85 537.19,176.83 537.52,178.02 537.86,179.38 538.19,179.66 538.52,179.67 538.86,178.61 539.19,177.38 539.53,176.33 539.86,175.5 540.2,174.93 540.53,174.64 540.87,174.64 541.2,174.93 541.53,175.5 541.87,176.32 542.2,177.37 542.54,178.6 542.87,179.71 543.21,179.71 543.54,179.71 543.88,179.44 544.21,178.15 544.55,176.99 544.88,175.99 545.21,175.17 545.55,174.57 545.88,174.21 546.22,174.1 546.55,174.24 546.89,174.63 547.22,175.25 547.56,176.08 547.89,177.11 548.22,178.28 548.56,179.58 548.89,179.76 549.23,179.76 549.56,179.09 549.9,177.9 550.23,176.91 550.57,176.17 550.9,175.73 551.24,175.6 551.57,175.8 551.9,176.3 552.24,177.1 552.57,178.13 552.91,179.36 553.24,179.81 553.58,179.81 553.91,179.82 554.25,179.83 554.58,179.84 554.91,179.63 555.25,178.97 555.58,178.45 555.92,178.06 556.25,177.85 556.59,177.81 556.92,177.94 557.26,178.24 557.59,178.7 557.92,179.3 558.26,179.92 558.59,179.93 558.93,179.94 559.26,179.95 559.6,179.96 559.93,179.35 560.27,178.71 560.6,178.2 560.94,177.84 561.27,177.64 561.6,177.61 561.94,177.75 562.27,178.05 562.61,178.51 562.94,179.1 563.28,179.8 563.61,180.05 563.95,180.06 564.28,180.07 564.61,180.07 564.95,179.43 565.28,178.83 565.62,178.35 565.95,178.02 566.29,177.83 566.62,177.81 566.96,177.95 567.29,178.25 567.63,178.69 567.96,179.26 568.29,179.93 568.63,180.17 568.96,180.18 569.3,180.18 569.63,180.19 569.97,180.2 570.3,180.22 570.64,180.25 570.97,180.28 571.3,180.3 571.64,180.33 571.97,180.36 572.31,180.38 572.64,180.41 572.98,180.44 573.31,180.46 573.65,180.49 573.98,180.52 574.32,180.55 574.65,180.57 574.98,180.52 575.32,180.18 575.65,179.9 575.99,179.71 576.32,179.61 576.66,179.61 576.99,179.7 577.33,179.89 577.66,180.16 577.99,180.5 578.33,180.65 578.66,180.66 579,180.66 579.33,180.67 579.67,180.67 580,180.68 580.34,180.69 580.67,180.32 581.01,180.02 581.34,179.79 581.67,179.65 582.01,179.6 582.34,179.65 582.68,179.8 583.01,180.03 583.35,180.34 583.68,180.72 584.02,180.74 584.35,180.75 584.68,180.75 585.02,180.76 585.35,180.77 585.69,180.77 586.02,180.6 586.36,180.29 586.69,180.05 587.03,179.89 587.36,179.81 587.69,179.81 588.03,179.91 588.36,180.09 588.7,180.34 589.03,180.66 589.37,180.83 589.7,180.84 590.04,180.84 590.37,180.85 590.71,180.85 591.04,180.86 591.37,180.86 591.71,180.87 592.04,180.87 592.38,180.88 592.71,180.88 593.05,180.89 593.38,180.89 593.72,180.9 594.05,180.81 594.38,180.69 594.72,180.62 595.05,180.6 595.39,180.64 595.72,180.72 596.06,180.86 596.39,180.94 596.73,180.95 597.06,180.95 597.4,180.96 597.73,180.96 598.06,180.97 598.4,180.97 598.73,180.98 599.07,180.99 599.4,180.99 599.74,181 600.07,181 600.41,181 600.74,181 601.07,181.01 601.41,181.01 601.74,181.01 602.08,181.01 602.41,181.01 602.75,180.95 603.08,180.79 603.42,180.68 603.75,180.61 604.09,180.6 604.42,180.64 604.75,180.73 605.09,180.87 605.42,181.03 605.76,181.03 606.09,181.03 606.43,181.03 606.76,181.04 607.1,181.04 607.43,181.04 607.76,181.04 608.1,181.04 608.43,181.05 608.77,181.05 609.1,181.05 609.44,181.05 609.77,181.05 610.11,181.05 610.44,181.06 610.78,181.06 611.11,181.06 611.44,181.06 611.78,181.06 612.11,180.95 612.45,180.86 612.78,180.81 613.12,180.8 613.45,180.84 613.79,180.92 614.12,181.04 614.45,181.08 614.79,181.08 615.12,181.08 615.46,181.08 615.79,181.09 616.13,181.09 616.46,181.09 616.8,181.09 617.13,181.09 617.46,181.09 617.8,181.1 618.13,181.1 618.47,181.1 618.8,181.1 619.14,181.1 619.47,181.11 619.81,181.11 620.14,181.11 620.48,181.11 620.81,181.07 621.14,180.94 621.48,180.85 621.81,180.81 622.15,180.8 622.48,180.85 622.82,180.93 623.15,181.05 623.49,181.13 623.82,181.13 624.15,181.13 624.49,181.13 624.82,181.13 625.16,181.14 625.49,181.14 625.83,181.14 626.16,181.14 626.5,181.14 626.83,181.15 627.17,181.15 627.5,181.15 627.83,181.15 628.17,181.15 628.5,181.15 628.84,181.16 629.17,181.16 629.51,181.16 629.84,181.05 630.18,180.93 630.51,180.85 630.84,180.8 631.18,180.81 631.51,180.85 631.85,180.94 632.18,181.06 632.52,181.18 632.85,181.18 633.19,181.18 633.52,181.18 633.86,181.18 634.19,181.18 634.52,181.19 634.86,181.19 635.19,181.19 635.53,181.19 635.86,181.19 636.2,181.2 636.53,181.2 636.87,181.2 637.2,181.2 637.2,182.4 636.87,182.4 636.53,182.4 636.2,182.4 635.86,182.41 635.53,182.41 635.19,182.41 634.86,182.41 634.52,182.41 634.19,182.42 633.86,182.42 633.52,182.42 633.19,182.42 632.85,182.42 632.52,182.49 632.18,182.68 631.85,182.83 631.51,182.94 631.18,182.99 630.84,182.99 630.51,182.94 630.18,182.84 629.84,182.7 629.51,182.51 629.17,182.44 628.84,182.44 628.5,182.45 628.17,182.45 627.83,182.45 627.5,182.45 627.17,182.45 626.83,182.45 626.5,182.46 626.16,182.46 625.83,182.46 625.49,182.46 625.16,182.46 624.82,182.47 624.49,182.47 624.15,182.47 623.82,182.47 623.49,182.51 623.15,182.7 622.82,182.85 622.48,182.95 622.15,182.99 621.81,182.99 621.48,182.94 621.14,182.83 620.81,182.68 620.48,182.49 620.14,182.49 619.81,182.49 619.47,182.49 619.14,182.5 618.8,182.5 618.47,182.5 618.13,182.5 617.8,182.5 617.46,182.51 617.13,182.51 616.8,182.51 616.46,182.51 616.13,182.51 615.79,182.51 615.46,182.52 615.12,182.52 614.79,182.52 614.45,182.53 614.12,182.71 613.79,182.86 613.45,182.95 613.12,183 612.78,182.99 612.45,182.93 612.11,182.82 611.78,182.66 611.44,182.54 611.11,182.54 610.78,182.54 610.44,182.54 610.11,182.55 609.77,182.55 609.44,182.55 609.1,182.55 608.77,182.55 608.43,182.55 608.1,182.56 607.76,182.56 607.43,182.56 607.1,182.56 606.76,182.56 606.43,182.57 606.09,182.57 605.76,182.57 605.42,182.68 605.09,182.89 604.75,183.05 604.42,183.15 604.09,183.2 603.75,183.18 603.42,183.11 603.08,182.97 602.75,182.79 602.41,182.59 602.08,182.59 601.74,182.59 601.41,182.59 601.07,182.59 600.74,182.6 600.41,182.6 600.07,182.6 599.74,182.6 599.4,182.61 599.07,182.61 598.73,182.62 598.4,182.63 598.06,182.63 597.73,182.64 597.4,182.64 597.06,182.65 596.73,182.65 596.39,182.7 596.06,182.9 595.72,183.06 595.39,183.16 595.05,183.2 594.72,183.18 594.38,183.1 594.05,182.96 593.72,182.77 593.38,182.71 593.05,182.71 592.71,182.72 592.38,182.72 592.04,182.73 591.71,182.73 591.37,182.74 591.04,182.74 590.71,182.75 590.37,182.75 590.04,182.76 589.7,182.76 589.37,182.77 589.03,183.17 588.7,183.55 588.36,183.86 588.03,184.07 587.69,184.18 587.36,184.19 587.03,184.09 586.69,183.9 586.36,183.61 586.02,183.24 585.69,182.83 585.35,182.83 585.02,182.84 584.68,182.85 584.35,182.85 584.02,182.86 583.68,183.08 583.35,183.52 583.01,183.89 582.68,184.17 582.34,184.34 582.01,184.4 581.67,184.35 581.34,184.18 581.01,183.91 580.67,183.54 580.34,183.1 580,182.92 579.67,182.93 579.33,182.93 579,182.94 578.66,182.94 578.33,182.95 577.99,183.34 577.66,183.74 577.33,184.06 576.99,184.28 576.66,184.39 576.32,184.38 575.99,184.27 575.65,184.04 575.32,183.72 574.98,183.31 574.65,183.03 574.32,183.05 573.98,183.08 573.65,183.11 573.31,183.14 572.98,183.16 572.64,183.19 572.31,183.22 571.97,183.24 571.64,183.27 571.3,183.3 570.97,183.32 570.64,183.35 570.3,183.38 569.97,183.4 569.63,183.41 569.3,183.42 568.96,183.42 568.63,183.43 568.29,183.86 567.96,184.6 567.63,185.22 567.29,185.71 566.96,186.03 566.62,186.19 566.29,186.16 565.95,185.96 565.62,185.59 565.28,185.06 564.95,184.41 564.61,183.64 564.28,183.53 563.95,183.54 563.61,183.55 563.28,183.99 562.94,184.76 562.61,185.41 562.27,185.91 561.94,186.24 561.6,186.39 561.27,186.36 560.94,186.14 560.6,185.74 560.27,185.18 559.93,184.49 559.6,183.68 559.26,183.65 558.93,183.66 558.59,183.67 558.26,183.86 557.92,184.68 557.59,185.36 557.26,185.89 556.92,186.24 556.59,186.39 556.25,186.34 555.92,186.1 555.58,185.66 555.25,185.05 554.91,184.3 554.58,183.76 554.25,183.77 553.91,183.78 553.58,183.79 553.24,183.79 552.91,184.4 552.57,185.7 552.24,186.81 551.9,187.65 551.57,188.19 551.24,188.4 550.9,188.26 550.57,187.79 550.23,187.01 549.9,185.96 549.56,184.69 549.23,183.84 548.89,183.84 548.56,184.17 548.22,185.54 547.89,186.8 547.56,187.89 547.22,188.78 546.89,189.44 546.55,189.85 546.22,190 545.88,189.88 545.55,189.5 545.21,188.86 544.88,187.99 544.55,186.92 544.21,185.68 543.88,184.32 543.54,183.89 543.21,183.89 542.87,183.89 542.54,185.35 542.2,186.72 541.87,187.89 541.53,188.8 541.2,189.44 540.87,189.76 540.53,189.76 540.2,189.43 539.86,188.8 539.53,187.88 539.19,186.71 538.86,185.34 538.52,183.93 538.19,183.94 537.86,184.38 537.52,185.84 537.19,187.12 536.85,188.16 536.52,188.93 536.18,189.38 535.85,189.5 535.51,189.27 535.18,188.72 534.84,187.87 534.51,186.75 534.18,185.41 533.84,183.98 533.51,183.98 533.17,183.98 532.84,183.99 532.5,183.99 532.17,183.99 531.83,184 531.5,184" fill="#1818e8" stroke="none" stroke-width="0"/>
<polygon points="462.5,174.6 463.3,174.6 464.1,164.87 464.9,156.2 465.7,153.48 466.5,159.58 467.3,159.16 468.1,160.92 468.9,160.9 469.7,163.41 470.5,162.5 471.3,164.17 472.1,163.1 472.9,163.79 473.7,163.47 474.5,165.03 475.3,164.15 476.1,166.44 476.9,165.35 477.7,166.8 478.5,166.55 479.3,168.7 480.1,166.7 480.9,168.51 481.7,166.7 482.5,167.25 483.3,165.72 484.1,165.85 484.9,163.48 485.7,164.29 486.5,161.22 487.3,160.82 488.1,160.01 488.9,160.98 489.7,160.55 490.5,161.94 491.3,160.98 492.1,162.2 492.9,161.4 493.7,162.39 494.5,161.8 495.3,163.6 496.1,161.8 496.9,163.47 497.7,161.8 498.5,163.75 499.3,161.8 500.1,163.43 500.9,161.8 501.7,163.17 502.5,161.83 503.3,162.63 504.1,162.06 504.9,163.92 505.7,162.29 506.5,164.29 507.3,162.53 508.1,163.76 508.9,162.74 509.7,163.99 510.5,162.89 511.3,164.96 512.1,163.04 512.9,163.66 513.7,163.2 514.5,164.85 515.3,163.35 516.1,164.67 516.9,163.5 517.7,164.99 518.5,163.82 519.3,164.81 520.1,164.14 520.9,165.63 521.7,164.46 522.5,165.39 523.3,164.78 524.1,165.96 524.9,165.1 525.7,165.93 526.5,164.13 527.3,164.32 528.1,162.58 528.9,162.25 529.7,160.27 530.5,163.12 531.3,163 532.1,176 532.1,176 532.1,188 532.1,188 531.3,201 530.5,201.59 529.7,203.91 528.9,200.66 528.1,201.31 527.3,199.73 526.5,199.47 525.7,197.15 524.9,198.25 524.1,196.43 523.3,198.4 522.5,197.72 521.7,198.55 520.9,197.19 520.1,198.7 519.3,197.36 518.5,198.85 517.7,197.3 516.9,199 516.1,197.85 515.3,199.17 514.5,197.27 513.7,199.34 512.9,198.79 512.1,199.51 511.3,198.52 510.5,199.69 509.7,198.69 508.9,199.86 508.1,199 507.3,200.35 506.5,198.81 505.7,200.94 504.9,200.43 504.1,201.53 503.3,200.61 502.5,202.13 501.7,200.53 500.9,202.02 500.1,200.28 499.3,201.82 498.5,199.88 497.7,201.62 496.9,200.7 496.1,201.42 495.3,200.46 494.5,201.21 493.7,200.9 492.9,201.75 492.1,200.82 491.3,202.34 490.5,201.3 489.7,202.93 488.9,201.17 488.1,203.14 487.3,201.19 486.5,201.78 485.7,199.59 484.9,199.52 484.1,197.73 483.3,197.28 482.5,195.33 481.7,196.53 480.9,195.31 480.1,196.94 479.3,195.54 478.5,197.44 477.7,197.46 476.9,198.6 476.1,198.34 475.3,199.76 474.5,199.54 473.7,199.94 472.9,198.68 472.1,199.53 471.3,198.47 470.5,199.5 469.7,199.03 468.9,201.1 468.1,200.21 467.3,203.2 466.5,203.58 465.7,208.25 464.9,205.02 464.1,198.13 463.3,188.4 462.5,188.4" fill="#1616f0" stroke="none" stroke-width="0"/>
<line x1="463.5" y1="169.43" x2="463.5" y2="179.41" stroke="#7a7afa" stroke-width="0.8"/>
<line x1="463.5" y1="184.14" x2="463.5" y2="193.57" stroke="#7a7afa" stroke-width="0.8"/>
<line x1="466.5" y1="157.31" x2="466.5" y2="177.94" stroke="#7a7afa" stroke-width="0.8"/>
<line x1="466.5" y1="188.01" x2="466.5" y2="205.58" stroke="#7a7afa" stroke-width="0.8"/>
<line x1="469.5" y1="160.73" x2="469.5" y2="177.95" stroke="#7a7afa" stroke-width="0.8"/>
<line x1="469.5" y1="187.17" x2="469.5" y2="201.27" stroke="#7a7afa" stroke-width="0.8"/>
<line x1="471.5" y1="162.7" x2="471.5" y2="176.3" stroke="#7a7afa" stroke-width="0.8"/>
<line x1="471.5" y1="187.47" x2="471.5" y2="199.72" stroke="#7a7afa" stroke-width="0.8"/>
<line x1="473.5" y1="163.22" x2="473.5" y2="177.98" stroke="#7a7afa" stroke-width="0.8"/>
<line x1="473.5" y1="188.5" x2="473.5" y2="200.3" stroke="#7a7afa" stroke-width="0.8"/>
<line x1="476.5" y1="164.41" x2="476.5" y2="178.13" stroke="#7a7afa" stroke-width="0.8"/>
<line x1="476.5" y1="185.84" x2="476.5" y2="199.52" stroke="#7a7afa" stroke-width="0.8"/>
<line x1="478.5" y1="166.21" x2="478.5" y2="178.88" stroke="#7a7afa" stroke-width="0.8"/>
<line x1="478.5" y1="188.05" x2="478.5" y2="197.79" stroke="#7a7afa" stroke-width="0.8"/>
<line x1="480.5" y1="166.4" x2="480.5" y2="176.81" stroke="#7a7afa" stroke-width="0.8"/>
<line x1="480.5" y1="186.37" x2="480.5" y2="197.09" stroke="#7a7afa" stroke-width="0.8"/>
<line x1="482.5" y1="165.98" x2="482.5" y2="175.8" stroke="#7a7afa" stroke-width="0.8"/>
<line x1="482.5" y1="186.67" x2="482.5" y2="197.02" stroke="#7a7afa" stroke-width="0.8"/>
<line x1="485.5" y1="162.29" x2="485.5" y2="178.08" stroke="#7a7afa" stroke-width="0.8"/>
<line x1="485.5" y1="186.37" x2="485.5" y2="200.71" stroke="#7a7afa" stroke-width="0.8"/>
<line x1="487.5" y1="159.65" x2="487.5" y2="175.18" stroke="#7a7afa" stroke-width="0.8"/>
<line x1="487.5" y1="185.86" x2="487.5" y2="203.46" stroke="#7a7afa" stroke-width="0.8"/>
<line x1="490.5" y1="160.42" x2="490.5" y2="177.04" stroke="#7a7afa" stroke-width="0.8"/>
<line x1="490.5" y1="189.49" x2="490.5" y2="202.99" stroke="#7a7afa" stroke-width="0.8"/>
<line x1="492.5" y1="161.01" x2="492.5" y2="177.47" stroke="#7a7afa" stroke-width="0.8"/>
<line x1="492.5" y1="186.5" x2="492.5" y2="202.17" stroke="#7a7afa" stroke-width="0.8"/>
<line x1="495.5" y1="161.5" x2="495.5" y2="176.55" stroke="#7a7afa" stroke-width="0.8"/>
<line x1="495.5" y1="187.93" x2="495.5" y2="201.6" stroke="#7a7afa" stroke-width="0.8"/>
<line x1="497.5" y1="161.5" x2="497.5" y2="177.51" stroke="#7a7afa" stroke-width="0.8"/>
<line x1="497.5" y1="188.4" x2="497.5" y2="201.91" stroke="#7a7afa" stroke-width="0.8"/>
<line x1="500.5" y1="161.5" x2="500.5" y2="175.28" stroke="#7a7afa" stroke-width="0.8"/>
<line x1="500.5" y1="186.6" x2="500.5" y2="202.22" stroke="#7a7afa" stroke-width="0.8"/>
<line x1="502.5" y1="161.5" x2="502.5" y2="176.87" stroke="#7a7afa" stroke-width="0.8"/>
<line x1="502.5" y1="185.88" x2="502.5" y2="202.48" stroke="#7a7afa" stroke-width="0.8"/>
<line x1="504.5" y1="161.79" x2="504.5" y2="176.52" stroke="#7a7afa" stroke-width="0.8"/>
<line x1="504.5" y1="187.09" x2="504.5" y2="201.76" stroke="#7a7afa" stroke-width="0.8"/>
<line x1="506.5" y1="162.17" x2="506.5" y2="176.48" stroke="#7a7afa" stroke-width="0.8"/>
<line x1="506.5" y1="188.3" x2="506.5" y2="200.79" stroke="#7a7afa" stroke-width="0.8"/>
<line x1="509.5" y1="162.47" x2="509.5" y2="178.04" stroke="#7a7afa" stroke-width="0.8"/>
<line x1="509.5" y1="185.54" x2="509.5" y2="200.12" stroke="#7a7afa" stroke-width="0.8"/>
<line x1="511.5" y1="162.68" x2="511.5" y2="174.75" stroke="#7a7afa" stroke-width="0.8"/>
<line x1="511.5" y1="188.62" x2="511.5" y2="199.89" stroke="#7a7afa" stroke-width="0.8"/>
<line x1="513.5" y1="162.88" x2="513.5" y2="176.19" stroke="#7a7afa" stroke-width="0.8"/>
<line x1="513.5" y1="188.36" x2="513.5" y2="199.66" stroke="#7a7afa" stroke-width="0.8"/>
<line x1="516.5" y1="163.13" x2="516.5" y2="177.09" stroke="#7a7afa" stroke-width="0.8"/>
<line x1="516.5" y1="188.32" x2="516.5" y2="199.38" stroke="#7a7afa" stroke-width="0.8"/>
<line x1="518.5" y1="163.54" x2="518.5" y2="175.94" stroke="#7a7afa" stroke-width="0.8"/>
<line x1="518.5" y1="186.8" x2="518.5" y2="199.14" stroke="#7a7afa" stroke-width="0.8"/>
<line x1="520.5" y1="163.98" x2="520.5" y2="175.48" stroke="#7a7afa" stroke-width="0.8"/>
<line x1="520.5" y1="187.94" x2="520.5" y2="198.93" stroke="#7a7afa" stroke-width="0.8"/>
<line x1="523.5" y1="164.45" x2="523.5" y2="177.77" stroke="#7a7afa" stroke-width="0.8"/>
<line x1="523.5" y1="186.43" x2="523.5" y2="198.71" stroke="#7a7afa" stroke-width="0.8"/>
<line x1="525.5" y1="164.87" x2="525.5" y2="177.92" stroke="#7a7afa" stroke-width="0.8"/>
<line x1="525.5" y1="185.1" x2="525.5" y2="198.51" stroke="#7a7afa" stroke-width="0.8"/>
<line x1="527.5" y1="162.54" x2="527.5" y2="177.41" stroke="#7a7afa" stroke-width="0.8"/>
<line x1="527.5" y1="189.45" x2="527.5" y2="201.3" stroke="#7a7afa" stroke-width="0.8"/>
<line x1="530.5" y1="160.59" x2="530.5" y2="174.45" stroke="#7a7afa" stroke-width="0.8"/>
<line x1="530.5" y1="186.62" x2="530.5" y2="203.55" stroke="#7a7afa" stroke-width="0.8"/>
<polygon points="464.2,176 465.3,150.6 466.6,176 466.6,188 465.4,211 464.2,188" fill="#1414ee" stroke="none" stroke-width="0"/>
<line x1="428.6" y1="288.3" x2="487" y2="288.3" stroke="#3a9a3a" stroke-width="0.9"/>
<polygon points="556.5,286.4 556.84,286.41 557.17,286.42 557.51,286.44 557.84,286.45 558.18,286.46 558.51,286.47 558.85,286.49 559.18,286.5 559.52,286.36 559.85,286.21 560.19,286.22 560.52,286.38 560.86,286.56 561.2,286.57 561.53,286.58 561.87,286.6 562.2,286.6 562.54,286.6 562.87,286.6 563.21,286.6 563.54,286.6 563.88,286.61 564.21,286.61 564.55,286.61 564.89,286.61 565.22,286.61 565.56,286.52 565.89,286.41 566.23,286.43 566.56,286.59 566.9,286.61 567.23,286.62 567.57,286.62 567.9,286.62 568.24,286.62 568.58,286.62 568.91,286.62 569.25,286.62 569.58,286.62 569.92,286.62 570.25,286.62 570.59,286.63 570.92,286.63 571.26,286.63 571.59,286.5 571.93,286.4 572.26,286.44 572.6,286.62 572.94,286.63 573.27,286.63 573.61,286.63 573.94,286.64 574.28,286.64 574.61,286.64 574.95,286.64 575.28,286.64 575.62,286.64 575.95,286.64 576.29,286.64 576.62,286.64 576.96,286.64 577.3,286.64 577.63,286.48 577.97,286.4 578.3,286.46 578.64,286.65 578.97,286.65 579.31,286.65 579.64,286.65 579.98,286.65 580.31,286.65 580.65,286.65 580.99,286.66 581.32,286.66 581.66,286.66 581.99,286.66 582.33,286.66 582.66,286.66 583,286.66 583.33,286.66 583.67,286.47 584,286.4 584.34,286.47 584.67,286.67 585.01,286.67 585.35,286.67 585.68,286.67 586.02,286.67 586.35,286.67 586.69,286.67 587.02,286.67 587.36,286.67 587.69,286.68 588.03,286.68 588.36,286.68 588.7,286.68 589.04,286.68 589.37,286.68 589.71,286.55 590.04,286.5 590.38,286.58 590.71,286.68 591.05,286.69 591.38,286.69 591.72,286.69 592.05,286.69 592.39,286.69 592.73,286.69 593.06,286.69 593.4,286.69 593.73,286.69 594.07,286.69 594.4,286.7 594.74,286.7 595.07,286.7 595.41,286.7 595.74,286.7 596.08,286.71 596.41,286.76 596.75,286.81 597.09,286.86 597.42,286.91 597.76,286.96 598.09,287.01 598.43,287.06 598.76,287.11 599.1,287.16 599.43,287.21 599.77,287.27 600.1,287.22 600.44,287.09 600.77,287.01 601.11,287 601.45,287.05 601.78,287.17 602.12,287.32 602.45,287.32 602.79,287.32 603.12,287.33 603.46,287.33 603.79,287.33 604.13,287.33 604.46,287.34 604.8,287.34 605.14,287.34 605.47,287.35 605.81,287.35 606.14,287.2 606.48,287.07 606.81,287.01 607.15,287.01 607.48,287.06 607.82,287.18 608.15,287.35 608.49,287.37 608.83,287.37 609.16,287.38 609.5,287.38 609.83,287.38 610.17,287.38 610.5,287.39 610.84,287.39 611.17,287.39 611.51,287.4 611.84,287.4 612.18,287.41 612.51,287.43 612.85,287.46 613.19,287.48 613.52,287.5 613.86,287.52 614.19,287.55 614.53,287.57 614.86,287.59 615.2,287.61 615.53,287.64 615.87,287.66 616.2,287.68 616.54,287.7 616.88,287.72 617.21,287.75 617.55,287.77 617.88,287.79 618.22,287.8 618.55,287.8 618.89,287.8 619.22,287.81 619.56,287.81 619.89,287.81 620.23,287.81 620.56,287.81 620.9,287.82 621.24,287.82 621.57,287.82 621.91,287.82 622.24,287.82 622.58,287.82 622.91,287.83 623.25,287.83 623.58,287.83 623.92,287.83 624.25,287.83 624.59,287.83 624.92,287.84 625.26,287.84 625.6,287.84 625.93,287.84 626.27,287.84 626.6,287.85 626.94,287.85 627.27,287.85 627.61,287.85 627.94,287.85 628.28,287.85 628.61,287.86 628.95,287.86 629.29,287.86 629.62,287.86 629.96,287.86 630.29,287.86 630.63,287.87 630.96,287.87 631.3,287.87 631.63,287.87 631.97,287.87 632.3,287.88 632.64,287.88 632.98,287.88 633.31,287.88 633.65,287.88 633.98,287.88 634.32,287.89 634.65,287.89 634.99,287.89 635.32,287.89 635.66,287.89 635.99,287.89 636.33,287.9 636.66,287.9 637,287.9 637,288.9 636.66,288.9 636.33,288.9 635.99,288.91 635.66,288.91 635.32,288.91 634.99,288.91 634.65,288.91 634.32,288.91 633.98,288.92 633.65,288.92 633.31,288.92 632.98,288.92 632.64,288.92 632.3,288.92 631.97,288.93 631.63,288.93 631.3,288.93 630.96,288.93 630.63,288.93 630.29,288.94 629.96,288.94 629.62,288.94 629.29,288.94 628.95,288.94 628.61,288.94 628.28,288.95 627.94,288.95 627.61,288.95 627.27,288.95 626.94,288.95 626.6,288.95 626.27,288.96 625.93,288.96 625.6,288.96 625.26,288.96 624.92,288.96 624.59,288.97 624.25,288.97 623.92,288.97 623.58,288.97 623.25,288.97 622.91,288.97 622.58,288.98 622.24,288.98 621.91,288.98 621.57,288.98 621.24,288.98 620.9,288.98 620.56,288.99 620.23,288.99 619.89,288.99 619.56,288.99 619.22,288.99 618.89,289 618.55,289 618.22,289 617.88,289.01 617.55,289.03 617.21,289.05 616.88,289.07 616.54,289.1 616.2,289.12 615.87,289.14 615.53,289.16 615.2,289.19 614.86,289.21 614.53,289.23 614.19,289.25 613.86,289.28 613.52,289.3 613.19,289.32 612.85,289.34 612.51,289.37 612.18,289.39 611.84,289.4 611.51,289.4 611.17,289.41 610.84,289.41 610.5,289.41 610.17,289.42 609.83,289.42 609.5,289.42 609.16,289.42 608.83,289.43 608.49,289.43 608.15,289.45 607.82,289.62 607.48,289.74 607.15,289.79 606.81,289.79 606.48,289.73 606.14,289.6 605.81,289.45 605.47,289.45 605.14,289.46 604.8,289.46 604.46,289.46 604.13,289.47 603.79,289.47 603.46,289.47 603.12,289.47 602.79,289.48 602.45,289.48 602.12,289.48 601.78,289.63 601.45,289.75 601.11,289.8 600.77,289.79 600.44,289.71 600.1,289.58 599.77,289.53 599.43,289.58 599.1,289.64 598.76,289.69 598.43,289.74 598.09,289.79 597.76,289.84 597.42,289.89 597.09,289.94 596.75,289.99 596.41,290.04 596.08,290.09 595.74,290.1 595.41,290.1 595.07,290.1 594.74,290.1 594.4,290.1 594.07,290.11 593.73,290.11 593.4,290.11 593.06,290.11 592.73,290.11 592.39,290.11 592.05,290.11 591.72,290.11 591.38,290.11 591.05,290.11 590.71,290.12 590.38,290.22 590.04,290.3 589.71,290.25 589.37,290.12 589.04,290.12 588.7,290.12 588.36,290.12 588.03,290.12 587.69,290.12 587.36,290.13 587.02,290.13 586.69,290.13 586.35,290.13 586.02,290.13 585.68,290.13 585.35,290.13 585.01,290.13 584.67,290.13 584.34,290.33 584,290.4 583.67,290.33 583.33,290.14 583,290.14 582.66,290.14 582.33,290.14 581.99,290.14 581.66,290.14 581.32,290.14 580.99,290.14 580.65,290.15 580.31,290.15 579.98,290.15 579.64,290.15 579.31,290.15 578.97,290.15 578.64,290.15 578.3,290.34 577.97,290.4 577.63,290.32 577.3,290.16 576.96,290.16 576.62,290.16 576.29,290.16 575.95,290.16 575.62,290.16 575.28,290.16 574.95,290.16 574.61,290.16 574.28,290.16 573.94,290.16 573.61,290.17 573.27,290.17 572.94,290.17 572.6,290.18 572.26,290.36 571.93,290.4 571.59,290.3 571.26,290.17 570.92,290.17 570.59,290.17 570.25,290.18 569.92,290.18 569.58,290.18 569.25,290.18 568.91,290.18 568.58,290.18 568.24,290.18 567.9,290.18 567.57,290.18 567.23,290.18 566.9,290.19 566.56,290.21 566.23,290.37 565.89,290.39 565.56,290.28 565.22,290.19 564.89,290.19 564.55,290.19 564.21,290.19 563.88,290.19 563.54,290.2 563.21,290.2 562.87,290.2 562.54,290.2 562.2,290.2 561.87,290.2 561.53,290.22 561.2,290.23 560.86,290.24 560.52,290.42 560.19,290.58 559.85,290.59 559.52,290.44 559.18,290.3 558.85,290.31 558.51,290.33 558.18,290.34 557.84,290.35 557.51,290.36 557.17,290.38 556.84,290.39 556.5,290.4" fill="#1f9a1f" stroke="none" stroke-width="0"/>
<polygon points="486.4,288 487.2,282.18 488,276.5 488.8,272.02 489.6,267.5 490.4,266.13 491.2,263.09 492,263.46 492.8,262.95 493.6,263.85 494.4,263.01 495.2,263.73 496,263.02 496.8,264.51 497.6,263.02 498.4,264.33 499.2,263.03 500,264.16 500.8,263.04 501.6,263.68 502.4,263.05 503.2,264.96 504,263.06 504.8,263.86 505.6,263.07 506.4,264.12 507.2,263.07 508,263.89 508.8,263.08 509.6,264.46 510.4,263.09 511.2,265.03 512,263.1 512.8,264.14 513.6,263.11 514.4,264.87 515.2,263.12 516,263.67 516.8,263.13 517.6,264.93 518.4,263.13 519.2,263.97 520,263.14 520.8,264.74 521.6,263.15 522.4,264.62 523.2,263.16 524,263.72 524.8,263.17 525.6,264.17 526.4,263.18 527.2,264.65 528,263.18 528.8,265.13 529.6,263.19 530.4,265.19 531.2,263.2 532,264.16 532.8,263.21 533.6,264.65 534.4,263.22 535.2,264.73 536,263.23 536.8,264.02 537.6,263.23 538.4,264.64 539.2,263.24 540,263.89 540.8,263.25 541.6,265.12 542.4,263.26 543.2,265.25 544,263.27 544.8,264.45 545.6,263.28 546.4,264.45 547.2,263.28 548,264.63 548.8,263.29 549.6,263.95 550.4,263.99 551.2,266.49 552,268.93 552.8,273.82 553.6,275.9 554.4,280.59 555.2,281.27 556,283.3 556.8,284.9 557.5,286.3 557.5,290.5 556.8,291.94 556,293.58 555.2,295.51 554.4,296.51 553.6,300.3 552.8,301.42 552,306.07 551.2,307.96 550.4,310.75 549.6,309.54 548.8,311.55 548,310.9 547.2,311.6 546.4,309.95 545.6,311.66 544.8,309.98 544,311.71 543.2,310.95 542.4,311.77 541.6,310.32 540.8,311.83 540,310.76 539.2,311.88 538.4,310.37 537.6,311.94 536.8,310.08 536,311.99 535.2,311.38 534.4,312.05 533.6,310.76 532.8,312.11 532,311.37 531.2,312.16 530.4,310.51 529.6,312.22 528.8,310.28 528,312.27 527.2,310.55 526.4,312.33 525.6,311.26 524.8,312.39 524,311.41 523.2,312.44 522.4,311.64 521.6,312.5 520.8,311.74 520,312.55 519.2,310.89 518.4,312.61 517.6,311.16 516.8,312.67 516,311.09 515.2,312.72 514.4,310.77 513.6,312.78 512.8,312 512,312.83 511.2,311.1 510.4,312.89 509.6,311.6 508.8,312.95 508,312.15 507.2,313 506.4,311.1 505.6,313.06 504.8,312.09 504,313.11 503.2,312.04 502.4,313.17 501.6,312.67 500.8,313.23 500,311.26 499.2,313.28 498.4,312.14 497.6,313.34 496.8,312.66 496,313.39 495.2,311.81 494.4,313.45 493.6,311.84 492.8,313.52 492,312.96 491.2,313.3 490.4,310.17 489.6,309.5 488.8,304.83 488,300.5 487.2,294.76 486.4,288.8" fill="#0e980e" stroke="none" stroke-width="0"/>
<line x1="487.5" y1="279" x2="487.5" y2="285.92" stroke="#74d274" stroke-width="0.75"/>
<line x1="487.5" y1="289.7" x2="487.5" y2="298" stroke="#74d274" stroke-width="0.75"/>
<line x1="490.5" y1="265.55" x2="490.5" y2="280.35" stroke="#74d274" stroke-width="0.75"/>
<line x1="490.5" y1="295.31" x2="490.5" y2="311.33" stroke="#74d274" stroke-width="0.75"/>
<line x1="492.5" y1="262.64" x2="492.5" y2="279.05" stroke="#74d274" stroke-width="0.75"/>
<line x1="492.5" y1="297.26" x2="492.5" y2="313.83" stroke="#74d274" stroke-width="0.75"/>
<line x1="495.5" y1="262.71" x2="495.5" y2="281.73" stroke="#74d274" stroke-width="0.75"/>
<line x1="495.5" y1="295" x2="495.5" y2="313.73" stroke="#74d274" stroke-width="0.75"/>
<line x1="498.5" y1="262.73" x2="498.5" y2="281.89" stroke="#74d274" stroke-width="0.75"/>
<line x1="498.5" y1="296.71" x2="498.5" y2="313.62" stroke="#74d274" stroke-width="0.75"/>
<line x1="500.5" y1="262.74" x2="500.5" y2="282.74" stroke="#74d274" stroke-width="0.75"/>
<line x1="500.5" y1="296.34" x2="500.5" y2="313.53" stroke="#74d274" stroke-width="0.75"/>
<line x1="503.5" y1="262.75" x2="503.5" y2="280.36" stroke="#74d274" stroke-width="0.75"/>
<line x1="503.5" y1="296.6" x2="503.5" y2="313.45" stroke="#74d274" stroke-width="0.75"/>
<line x1="505.5" y1="262.77" x2="505.5" y2="279.08" stroke="#74d274" stroke-width="0.75"/>
<line x1="505.5" y1="297.21" x2="505.5" y2="313.36" stroke="#74d274" stroke-width="0.75"/>
<line x1="508.5" y1="262.78" x2="508.5" y2="279.09" stroke="#74d274" stroke-width="0.75"/>
<line x1="508.5" y1="295.31" x2="508.5" y2="313.26" stroke="#74d274" stroke-width="0.75"/>
<line x1="510.5" y1="262.79" x2="510.5" y2="279.65" stroke="#74d274" stroke-width="0.75"/>
<line x1="510.5" y1="294.5" x2="510.5" y2="313.18" stroke="#74d274" stroke-width="0.75"/>
<line x1="513.5" y1="262.81" x2="513.5" y2="279.62" stroke="#74d274" stroke-width="0.75"/>
<line x1="513.5" y1="295.93" x2="513.5" y2="313.09" stroke="#74d274" stroke-width="0.75"/>
<line x1="515.5" y1="262.82" x2="515.5" y2="280.95" stroke="#74d274" stroke-width="0.75"/>
<line x1="515.5" y1="294.35" x2="515.5" y2="313" stroke="#74d274" stroke-width="0.75"/>
<line x1="518.5" y1="262.83" x2="518.5" y2="280.94" stroke="#74d274" stroke-width="0.75"/>
<line x1="518.5" y1="294.9" x2="518.5" y2="312.91" stroke="#74d274" stroke-width="0.75"/>
<line x1="521.5" y1="262.85" x2="521.5" y2="281.7" stroke="#74d274" stroke-width="0.75"/>
<line x1="521.5" y1="295.88" x2="521.5" y2="312.82" stroke="#74d274" stroke-width="0.75"/>
<line x1="523.5" y1="262.86" x2="523.5" y2="279.38" stroke="#74d274" stroke-width="0.75"/>
<line x1="523.5" y1="294.65" x2="523.5" y2="312.73" stroke="#74d274" stroke-width="0.75"/>
<line x1="526.5" y1="262.87" x2="526.5" y2="282.58" stroke="#74d274" stroke-width="0.75"/>
<line x1="526.5" y1="295.01" x2="526.5" y2="312.64" stroke="#74d274" stroke-width="0.75"/>
<line x1="528.5" y1="262.89" x2="528.5" y2="279.55" stroke="#74d274" stroke-width="0.75"/>
<line x1="528.5" y1="294.37" x2="528.5" y2="312.55" stroke="#74d274" stroke-width="0.75"/>
<line x1="531.5" y1="262.9" x2="531.5" y2="280.56" stroke="#74d274" stroke-width="0.75"/>
<line x1="531.5" y1="297.15" x2="531.5" y2="312.46" stroke="#74d274" stroke-width="0.75"/>
<line x1="533.5" y1="262.91" x2="533.5" y2="280.1" stroke="#74d274" stroke-width="0.75"/>
<line x1="533.5" y1="296.04" x2="533.5" y2="312.37" stroke="#74d274" stroke-width="0.75"/>
<line x1="536.5" y1="262.93" x2="536.5" y2="281.01" stroke="#74d274" stroke-width="0.75"/>
<line x1="536.5" y1="296.75" x2="536.5" y2="312.28" stroke="#74d274" stroke-width="0.75"/>
<line x1="539.5" y1="262.94" x2="539.5" y2="281.77" stroke="#74d274" stroke-width="0.75"/>
<line x1="539.5" y1="294.47" x2="539.5" y2="312.18" stroke="#74d274" stroke-width="0.75"/>
<line x1="541.5" y1="262.95" x2="541.5" y2="281.3" stroke="#74d274" stroke-width="0.75"/>
<line x1="541.5" y1="294.21" x2="541.5" y2="312.1" stroke="#74d274" stroke-width="0.75"/>
<line x1="543.5" y1="262.97" x2="543.5" y2="279.69" stroke="#74d274" stroke-width="0.75"/>
<line x1="543.5" y1="294.53" x2="543.5" y2="312.01" stroke="#74d274" stroke-width="0.75"/>
<line x1="546.5" y1="262.98" x2="546.5" y2="280.47" stroke="#74d274" stroke-width="0.75"/>
<line x1="546.5" y1="294.51" x2="546.5" y2="311.93" stroke="#74d274" stroke-width="0.75"/>
<line x1="549.5" y1="262.99" x2="549.5" y2="279.67" stroke="#74d274" stroke-width="0.75"/>
<line x1="549.5" y1="296.86" x2="549.5" y2="311.84" stroke="#74d274" stroke-width="0.75"/>
<line x1="551.5" y1="266.41" x2="551.5" y2="281.92" stroke="#74d274" stroke-width="0.75"/>
<line x1="551.5" y1="295.19" x2="551.5" y2="308.13" stroke="#74d274" stroke-width="0.75"/>
<line x1="554.5" y1="278.22" x2="554.5" y2="283.94" stroke="#74d274" stroke-width="0.75"/>
<line x1="554.5" y1="291.91" x2="554.5" y2="298.28" stroke="#74d274" stroke-width="0.75"/>
<line x1="257.5" y1="67.2" x2="257.5" y2="107.7" stroke="#6a6a6a" stroke-width="0.85"/>
<line x1="257.1" y1="107.3" x2="359.5" y2="107.3" stroke="#6a6a6a" stroke-width="0.85"/>
<text x="254.5" y="69.02" font-size="7.0" text-anchor="end" font-weight="bold" fill="#111" stroke="#111" stroke-width="0.15">3.5</text>
<text x="254.5" y="88.72" font-size="7.0" text-anchor="end" font-weight="bold" fill="#111" stroke="#111" stroke-width="0.15">0.0</text>
<text x="254.5" y="107.72" font-size="7.0" text-anchor="end" font-weight="bold" fill="#111" stroke="#111" stroke-width="0.15">-3.5</text>
<text x="257.2" y="115.7" font-size="7.0" text-anchor="middle" font-weight="bold" fill="#111" stroke="#111" stroke-width="0.15">1.8</text>
<text x="308.3" y="115.7" font-size="7.0" text-anchor="middle" font-weight="bold" fill="#111" stroke="#111" stroke-width="0.15">1.9</text>
<text x="358.5" y="115.7" font-size="7.0" text-anchor="middle" font-weight="bold" fill="#111" stroke="#111" stroke-width="0.15">2.0</text>
<text x="310.55" y="127.7" font-size="8.95" text-anchor="middle" fill="#333">Time (ms)</text>
<text transform="translate(236,112) rotate(-90)" font-size="8.7" text-anchor="start" fill="#333">Signal (V)</text>
<polyline points="257.9,75.93 258.07,75.36 258.24,74.92 258.41,74.61 258.58,74.44 258.75,74.41 258.92,74.52 259.09,74.77 259.26,75.15 259.43,75.67 259.6,76.32 259.77,77.08 259.94,77.96 260.11,78.94 260.27,80.01 260.44,81.16 260.61,82.37 260.78,83.64 260.95,84.95 261.12,86.29 261.29,87.64 261.46,88.98 261.63,90.3 261.8,91.6 261.97,92.84 262.14,94.03 262.31,95.14 262.48,96.16 262.65,97.09 262.82,97.91 262.99,98.62 263.16,99.2 263.33,99.66 263.5,99.98 263.67,100.16 263.84,100.2 264.01,100.1 264.18,99.86 264.35,99.48 264.52,98.97 264.68,98.33 264.85,97.57 265.02,96.7 265.19,95.73 265.36,94.67 265.53,93.52 265.7,92.31 265.87,91.04 266.04,89.74 266.21,88.4 266.38,87.06 266.55,85.71 266.72,84.38 266.89,83.09 267.06,81.84 267.23,80.65 267.4,79.54 267.57,78.5 267.74,77.57 267.91,76.74 268.08,76.02 268.25,75.43 268.42,74.97 268.59,74.64 268.76,74.45 268.93,74.4 269.09,74.49 269.26,74.72 269.43,75.09 269.6,75.59 269.77,76.22 269.94,76.97 270.11,77.83 270.28,78.8 270.45,79.86 270.62,81 270.79,82.2 270.96,83.47 271.13,84.77 271.3,86.11 271.47,87.45 271.64,88.8 271.81,90.13 271.98,91.42 272.15,92.68 272.32,93.87 272.49,94.99 272.66,96.03 272.83,96.97 273,97.81 273.17,98.53 273.34,99.13 273.5,99.6 273.67,99.94 273.84,100.14 274.01,100.2 274.18,100.12 274.35,99.9 274.52,99.54 274.69,99.05 274.86,98.43 275.03,97.68 275.2,96.83 275.37,95.87 275.54,94.82 275.71,93.68 275.88,92.48 276.05,91.22 276.22,89.92 276.39,88.58 276.56,87.24 276.73,85.89 276.9,84.56 277.07,83.26 277.24,82.01 277.41,80.81 277.58,79.68 277.75,78.64 277.91,77.69 278.08,76.84 278.25,76.11 278.42,75.5 278.59,75.02 278.76,74.68 278.93,74.47 279.1,74.4 279.27,74.47 279.44,74.68 279.61,75.03 279.78,75.52 279.95,76.13 280.12,76.86 280.29,77.71 280.46,78.66 280.63,79.71 280.8,80.84 280.97,82.04 281.14,83.29 281.31,84.59 281.48,85.92 281.65,87.27 281.82,88.62 281.99,89.95 282.16,91.25 282.32,92.51 282.49,93.71 282.66,94.84 282.83,95.89 283,96.85 283.17,97.7 283.34,98.44 283.51,99.06 283.68,99.55 283.85,99.9 284.02,100.12 284.19,100.2 284.36,100.14 284.53,99.93 284.7,99.59 284.87,99.12 285.04,98.52 285.21,97.79 285.38,96.95 285.55,96.01 285.72,94.97 285.89,93.84 286.06,92.65 286.23,91.39 286.4,90.09 286.57,88.77 286.73,87.42 286.9,86.08 287.07,84.74 287.24,83.44 287.41,82.18 287.58,80.97 287.75,79.83 287.92,78.77 288.09,77.81 288.26,76.95 288.43,76.2 288.6,75.58 288.77,75.08 288.94,74.72 289.11,74.49 289.28,74.4 289.45,74.45 289.62,74.65 289.79,74.98 289.96,75.44 290.13,76.04 290.3,76.76 290.47,77.59 290.64,78.53 290.81,79.56 290.98,80.68 291.14,81.87 291.31,83.12 291.48,84.42 291.65,85.74 291.82,87.09 291.99,88.43 292.16,89.77 292.33,91.07 292.5,92.34 292.67,93.55 292.84,94.69 293.01,95.76 293.18,96.73 293.35,97.59 293.52,98.35 293.69,98.98 293.86,99.49 294.03,99.86 294.2,100.1 294.37,100.2 294.54,100.15 294.71,99.97 294.88,99.65 295.05,99.19 295.22,98.61 295.39,97.9 295.55,97.07 295.72,96.14 295.89,95.11 296.06,94 296.23,92.81 296.4,91.57 296.57,90.27 296.74,88.95 296.91,87.6 297.08,86.26 297.25,84.92 297.42,83.61 297.59,82.34 297.76,81.13 297.93,79.98 298.1,78.91 298.27,77.94 298.44,77.06 298.61,76.3 298.78,75.66 298.95,75.14 299.12,74.76 299.29,74.51 299.46,74.4 299.63,74.44 299.8,74.61 299.96,74.93 300.13,75.37 300.3,75.95 300.47,76.65 300.64,77.47 300.81,78.39 300.98,79.42 301.15,80.52 301.32,81.7 301.49,82.95 301.66,84.24 301.83,85.56 302,86.9 302.17,88.25 302.34,89.59 302.51,90.9 302.68,92.17 302.85,93.39 303.02,94.54 303.19,95.62 303.36,96.6 303.53,97.48 303.7,98.25 303.87,98.9 304.04,99.43 304.21,99.82 304.37,100.08 304.54,100.19 304.71,100.17 304.88,100 305.05,99.7 305.22,99.26 305.39,98.69 305.56,98 305.73,97.19 305.9,96.27 306.07,95.26 306.24,94.15 306.41,92.98 306.58,91.74 306.75,90.45 306.92,89.13 307.09,87.79 307.26,86.44 307.43,85.1 307.6,83.79 307.77,82.51 307.94,81.29 308.11,80.13 308.28,79.05 308.45,78.06 308.62,77.17 308.78,76.4 308.95,75.74 309.12,75.2 309.29,74.8 309.46,74.54 309.63,74.41 309.8,74.43 309.97,74.58 310.14,74.87 310.31,75.3 310.48,75.86 310.65,76.55 310.82,77.35 310.99,78.26 311.16,79.27 311.33,80.37 311.5,81.54 311.67,82.78 311.84,84.06 312.01,85.38 312.18,86.72 312.35,88.07 312.52,89.41 312.69,90.72 312.86,92 313.03,93.23 313.19,94.39 313.36,95.48 313.53,96.47 313.7,97.37 313.87,98.15 314.04,98.82 314.21,99.36 314.38,99.78 314.55,100.05 314.72,100.18 314.89,100.18 315.06,100.03 315.23,99.75 315.4,99.33 315.57,98.78 315.74,98.1 315.91,97.31 316.08,96.4 316.25,95.4 316.42,94.31 316.59,93.14 316.76,91.91 316.93,90.63 317.1,89.31 317.27,87.97 317.44,86.62 317.6,85.28 317.77,83.97 317.94,82.68 318.11,81.45 318.28,80.29 318.45,79.19 318.62,78.19 318.79,77.29 318.96,76.5 319.13,75.82 319.3,75.27 319.47,74.85 319.64,74.56 319.81,74.42 319.98,74.42 320.15,74.55 320.32,74.83 320.49,75.24 320.66,75.78 320.83,76.45 321,77.24 321.17,78.13 321.34,79.13 321.51,80.21 321.68,81.38 321.85,82.6 322.01,83.88 322.18,85.2 322.35,86.54 322.52,87.89 322.69,89.23 322.86,90.55 323.03,91.83 323.2,93.07 323.37,94.24 323.54,95.33 323.71,96.34 323.88,97.25 324.05,98.05 324.22,98.74 324.39,99.3 324.56,99.73 324.73,100.02 324.9,100.17 325.07,100.19 325.24,100.06 325.41,99.8 325.58,99.39 325.75,98.86 325.92,98.2 326.09,97.42 326.26,96.53 326.42,95.54 326.59,94.46 326.76,93.3 326.93,92.08 327.1,90.8 327.27,89.49 327.44,88.15 327.61,86.81 327.78,85.46 327.95,84.14 328.12,82.86 328.29,81.62 328.46,80.44 328.63,79.34 328.8,78.32 328.97,77.41 329.14,76.6 329.31,75.9 329.48,75.34 329.65,74.9 329.82,74.6 329.99,74.43 330.16,74.41 330.33,74.52 330.5,74.78 330.67,75.17 330.83,75.7 331,76.35 331.17,77.12 331.34,78 331.51,78.99 331.68,80.06 331.85,81.22 332.02,82.43 332.19,83.71 332.36,85.02 332.53,86.36 332.7,87.7 332.87,89.05 333.04,90.37 333.21,91.66 333.38,92.9 333.55,94.08 333.72,95.19 333.89,96.21 334.06,97.14 334.23,97.95 334.4,98.65 334.57,99.23 334.74,99.68 334.91,99.99 335.08,100.16 335.24,100.2 335.41,100.09 335.58,99.84 335.75,99.46 335.92,98.94 336.09,98.3 336.26,97.53 336.43,96.66 336.6,95.68 336.77,94.61 336.94,93.47 337.11,92.25 337.28,90.98 337.45,89.67 337.62,88.34 337.79,86.99 337.96,85.65 338.13,84.32 338.3,83.03 338.47,81.78 338.64,80.6 338.81,79.48 338.98,78.46 339.15,77.52 339.32,76.7 339.49,75.99 339.65,75.41 339.82,74.95 339.99,74.63 340.16,74.45 340.33,74.4 340.5,74.5 340.67,74.74 340.84,75.11 341.01,75.62 341.18,76.26 341.35,77.01 341.52,77.88 341.69,78.85 341.86,79.91 342.03,81.05 342.2,82.27 342.37,83.53 342.54,84.84 342.71,86.17 342.88,87.52 343.05,88.86 343.22,90.19 343.39,91.49 343.56,92.74 343.73,93.93 343.9,95.04 344.06,96.08 344.23,97.02 344.4,97.85 344.57,98.57 344.74,99.16 344.91,99.62 345.08,99.95 345.25,100.15 345.42,100.2 345.59,100.11 345.76,99.88 345.93,99.52 346.1,99.02 346.27,98.39 346.44,97.64 346.61,96.78 346.78,95.82 346.95,94.76 347.12,93.63 347.29,92.42 347.46,91.16 347.63,89.85 347.8,88.52 347.97,87.17 348.14,85.83 348.31,84.5 348.47,83.2 348.64,81.95 348.81,80.75 348.98,79.63 349.15,78.59 349.32,77.64 349.49,76.8 349.66,76.08 349.83,75.48 350,75 350.17,74.66 350.34,74.46 350.51,74.4 350.68,74.48 350.85,74.7 351.02,75.05 351.19,75.54 351.36,76.16 351.53,76.9 351.7,77.75 351.87,78.71 352.04,79.76 352.21,80.89 352.38,82.1 352.55,83.36 352.72,84.66 352.88,85.99 353.05,87.34 353.22,88.68 353.39,90.01 353.56,91.31 353.73,92.57 353.9,93.77 354.07,94.9 354.24,95.94 354.41,96.89 354.58,97.74 354.75,98.47 354.92,99.09 355.09,99.57 355.26,99.92 355.43,100.13 355.6,100.2 355.77,100.13 355.94,99.92 356.11,99.57 356.28,99.09 356.45,98.48 356.62,97.75 356.79,96.91 356.96,95.96 357.13,94.91 357.29,93.78 357.46,92.59 357.63,91.33 357.8,90.03 357.97,88.7 358.14,87.36 358.31,86.01 358.48,84.68 358.65,83.37 358.82,82.11 358.99,80.91 359.16,79.78 359.33,78.73 359.5,77.77" fill="none" stroke="#484848" stroke-width="1.1"/>
<line x1="255.4" y1="164.5" x2="255.4" y2="205.5" stroke="#6a6a6a" stroke-width="0.85"/>
<line x1="255" y1="205.1" x2="357.4" y2="205.1" stroke="#6a6a6a" stroke-width="0.85"/>
<text x="252.6" y="168.12" font-size="7.0" text-anchor="end" font-weight="bold" fill="#111" stroke="#111" stroke-width="0.15">3.5</text>
<text x="252.6" y="186.22" font-size="7.0" text-anchor="end" font-weight="bold" fill="#111" stroke="#111" stroke-width="0.15">0.0</text>
<text x="252.6" y="205.32" font-size="7.0" text-anchor="end" font-weight="bold" fill="#111" stroke="#111" stroke-width="0.15">-3.5</text>
<text x="255.3" y="213.8" font-size="7.0" text-anchor="middle" font-weight="bold" fill="#111" stroke="#111" stroke-width="0.15">1.8</text>
<text x="306.4" y="213.8" font-size="7.0" text-anchor="middle" font-weight="bold" fill="#111" stroke="#111" stroke-width="0.15">1.9</text>
<text x="357.4" y="213.8" font-size="7.0" text-anchor="middle" font-weight="bold" fill="#111" stroke="#111" stroke-width="0.15">2.0</text>
<text x="308.5" y="225.6" font-size="8.95" text-anchor="middle" fill="#333">Time (ms)</text>
<text transform="translate(235.2,214.8) rotate(-90)" font-size="9.3" text-anchor="start" fill="#333">Signal (mV)</text>
<polyline points="255.6,166.97 255.77,167.65 255.94,168.51 256.11,169.55 256.28,170.75 256.45,172.1 256.62,173.59 256.79,175.2 256.96,176.91 257.13,178.7 257.3,180.55 257.47,182.45 257.64,184.36 257.81,186.28 257.98,188.18 258.15,190.04 258.32,191.83 258.49,193.54 258.66,195.15 258.83,196.65 259,198 259.17,199.21 259.34,200.26 259.51,201.13 259.68,201.81 259.85,202.31 260.02,202.6 260.19,202.7 260.36,202.59 260.53,202.29 260.7,201.79 260.87,201.09 261.04,200.21 261.21,199.16 261.38,197.95 261.55,196.58 261.72,195.09 261.89,193.47 262.06,191.75 262.23,189.96 262.4,188.1 262.57,186.2 262.74,184.28 262.91,182.37 263.08,180.47 263.25,178.62 263.42,176.83 263.59,175.13 263.76,173.52 263.93,172.04 264.1,170.7 264.27,169.5 264.44,168.47 264.61,167.61 264.78,166.94 264.95,166.46 265.12,166.18 265.29,166.1 265.46,166.22 265.63,166.54 265.8,167.06 265.97,167.77 266.14,168.66 266.31,169.73 266.48,170.96 266.65,172.33 266.82,173.84 266.99,175.46 267.16,177.19 267.33,178.99 267.5,180.85 267.67,182.75 267.84,184.67 268.01,186.59 268.18,188.48 268.35,190.33 268.52,192.11 268.69,193.8 268.86,195.4 269.03,196.87 269.2,198.21 269.37,199.39 269.54,200.41 269.71,201.25 269.88,201.9 270.05,202.37 270.22,202.63 270.39,202.7 270.56,202.56 270.73,202.22 270.9,201.69 271.07,200.97 271.24,200.06 271.41,198.98 271.58,197.74 271.75,196.35 271.92,194.84 272.09,193.2 272.26,191.47 272.43,189.67 272.59,187.8 272.76,185.9 272.93,183.98 273.1,182.06 273.27,180.17 273.44,178.33 273.61,176.55 273.78,174.86 273.95,173.28 274.12,171.82 274.29,170.49 274.46,169.32 274.63,168.32 274.8,167.49 274.97,166.85 275.14,166.4 275.31,166.16 275.48,166.11 275.65,166.26 275.82,166.61 275.99,167.16 276.16,167.9 276.33,168.82 276.5,169.91 276.67,171.16 276.84,172.56 277.01,174.09 277.18,175.73 277.35,177.47 277.52,179.28 277.69,181.15 277.86,183.06 278.03,184.98 278.2,186.89 278.37,188.78 278.54,190.61 278.71,192.38 278.88,194.07 279.05,195.64 279.22,197.09 279.39,198.4 279.56,199.56 279.73,200.55 279.9,201.36 280.07,201.99 280.24,202.42 280.41,202.66 280.58,202.69 280.75,202.52 280.92,202.15 281.09,201.59 281.26,200.83 281.43,199.9 281.6,198.79 281.77,197.53 281.94,196.12 282.11,194.58 282.28,192.94 282.45,191.19 282.62,189.37 282.79,187.5 282.96,185.59 283.13,183.67 283.3,181.76 283.47,179.88 283.64,178.04 283.81,176.28 283.98,174.61 284.15,173.04 284.32,171.6 284.49,170.3 284.66,169.15 284.83,168.18 285,167.38 285.17,166.77 285.34,166.35 285.51,166.13 285.68,166.12 285.85,166.3 286.02,166.69 286.19,167.27 286.36,168.03 286.53,168.98 286.7,170.1 286.87,171.38 287.04,172.8 287.21,174.34 287.38,176 287.55,177.75 287.72,179.57 287.89,181.45 288.06,183.36 288.23,185.28 288.4,187.19 288.57,189.07 288.74,190.9 288.91,192.66 289.08,194.32 289.25,195.88 289.42,197.31 289.59,198.6 289.76,199.73 289.93,200.69 290.1,201.48 290.27,202.07 290.44,202.47 290.61,202.67 290.78,202.67 290.95,202.47 291.12,202.07 291.29,201.48 291.46,200.7 291.63,199.73 291.8,198.6 291.97,197.32 292.14,195.89 292.31,194.33 292.48,192.66 292.65,190.91 292.82,189.08 292.99,187.2 293.16,185.29 293.33,183.37 293.5,181.46 293.67,179.58 293.84,177.76 294.01,176.01 294.18,174.35 294.35,172.8 294.52,171.38 294.69,170.11 294.86,168.99 295.03,168.04 295.2,167.27 295.37,166.69 295.54,166.3 295.71,166.12 295.88,166.13 296.05,166.35 296.22,166.77 296.39,167.38 296.56,168.17 296.73,169.15 296.9,170.29 297.07,171.59 297.24,173.03 297.41,174.6 297.58,176.27 297.75,178.04 297.92,179.87 298.09,181.75 298.26,183.66 298.43,185.58 298.6,187.49 298.77,189.37 298.94,191.18 299.11,192.93 299.28,194.58 299.45,196.12 299.62,197.52 299.79,198.79 299.96,199.89 300.13,200.83 300.3,201.58 300.47,202.15 300.64,202.52 300.81,202.69 300.98,202.66 301.15,202.42 301.32,201.99 301.49,201.37 301.66,200.56 301.83,199.57 302,198.41 302.17,197.1 302.34,195.65 302.51,194.07 302.68,192.39 302.85,190.62 303.02,188.78 303.19,186.9 303.36,184.98 303.53,183.06 303.7,181.16 303.87,179.29 304.04,177.47 304.21,175.74 304.38,174.1 304.55,172.57 304.72,171.17 304.89,169.92 305.06,168.82 305.23,167.9 305.4,167.16 305.57,166.61 305.74,166.26 305.91,166.11 306.08,166.15 306.25,166.4 306.42,166.85 306.58,167.49 306.75,168.32 306.92,169.32 307.09,170.49 307.26,171.81 307.43,173.27 307.6,174.86 307.77,176.55 307.94,178.32 308.11,180.17 308.28,182.05 308.45,183.97 308.62,185.89 308.79,187.79 308.96,189.66 309.13,191.47 309.3,193.2 309.47,194.83 309.64,196.35 309.81,197.74 309.98,198.98 310.15,200.06 310.32,200.96 310.49,201.69 310.66,202.22 310.83,202.56 311,202.7 311.17,202.63 311.34,202.37 311.51,201.91 311.68,201.25 311.85,200.41 312.02,199.39 312.19,198.21 312.36,196.88 312.53,195.4 312.7,193.81 312.87,192.11 313.04,190.33 313.21,188.49 313.38,186.59 313.55,184.68 313.72,182.76 313.89,180.86 314.06,179 314.23,177.19 314.4,175.47 314.57,173.84 314.74,172.34 314.91,170.96 315.08,169.73 315.25,168.67 315.42,167.77 315.59,167.06 315.76,166.55 315.93,166.22 316.1,166.1 316.27,166.18 316.44,166.46 316.61,166.94 316.78,167.61 316.95,168.46 317.12,169.5 317.29,170.69 317.46,172.04 317.63,173.52 317.8,175.12 317.97,176.82 318.14,178.61 318.31,180.46 318.48,182.36 318.65,184.27 318.82,186.19 318.99,188.09 319.16,189.95 319.33,191.75 319.5,193.46 319.67,195.08 319.84,196.58 320.01,197.94 320.18,199.16 320.35,200.21 320.52,201.09 320.69,201.78 320.86,202.29 321.03,202.59 321.2,202.7 321.37,202.6 321.54,202.31 321.71,201.81 321.88,201.13 322.05,200.26 322.22,199.22 322.39,198.01 322.56,196.65 322.73,195.16 322.9,193.55 323.07,191.84 323.24,190.04 323.41,188.19 323.58,186.29 323.75,184.37 323.92,182.45 324.09,180.56 324.26,178.7 324.43,176.91 324.6,175.2 324.77,173.6 324.94,172.11 325.11,170.76 325.28,169.55 325.45,168.51 325.62,167.65 325.79,166.97 325.96,166.48 326.13,166.19 326.3,166.1 326.47,166.21 326.64,166.52 326.81,167.03 326.98,167.73 327.15,168.62 327.32,169.67 327.49,170.89 327.66,172.26 327.83,173.76 328,175.38 328.17,177.1 328.34,178.9 328.51,180.76 328.68,182.66 328.85,184.58 329.02,186.5 329.19,188.39 329.36,190.24 329.53,192.03 329.7,193.73 329.87,195.33 330.04,196.8 330.21,198.15 330.38,199.34 330.55,200.36 330.72,201.21 330.89,201.88 331.06,202.35 331.23,202.62 331.4,202.7 331.57,202.57 331.74,202.24 331.91,201.72 332.08,201 332.25,200.11 332.42,199.03 332.59,197.8 332.76,196.42 332.93,194.91 333.1,193.28 333.27,191.56 333.44,189.75 333.61,187.89 333.78,185.99 333.95,184.07 334.12,182.15 334.29,180.26 334.46,178.42 334.63,176.64 334.8,174.94 334.97,173.35 335.14,171.88 335.31,170.55 335.48,169.38 335.65,168.36 335.82,167.53 335.99,166.88 336.16,166.42 336.33,166.16 336.5,166.1 336.67,166.25 336.84,166.59 337.01,167.13 337.18,167.86 337.35,168.77 337.52,169.86 337.69,171.1 337.86,172.49 338.03,174.01 338.2,175.65 338.37,177.38 338.54,179.19 338.71,181.06 338.88,182.97 339.05,184.89 339.22,186.8 339.39,188.69 339.56,190.53 339.73,192.3 339.9,193.99 340.07,195.57 340.24,197.03 340.41,198.35 340.57,199.51 340.74,200.51 340.91,201.33 341.08,201.97 341.25,202.41 341.42,202.65 341.59,202.69 341.76,202.53 341.93,202.17 342.1,201.62 342.27,200.87 342.44,199.95 342.61,198.85 342.78,197.59 342.95,196.19 343.12,194.66 343.29,193.01 343.46,191.28 343.63,189.46 343.8,187.59 343.97,185.68 344.14,183.76 344.31,181.85 344.48,179.96 344.65,178.13 344.82,176.36 344.99,174.68 345.16,173.11 345.33,171.66 345.5,170.36 345.67,169.2 345.84,168.22 346.01,167.41 346.18,166.79 346.35,166.37 346.52,166.14 346.69,166.11 346.86,166.29 347.03,166.66 347.2,167.23 347.37,167.99 347.54,168.93 347.71,170.04 347.88,171.31 348.05,172.73 348.22,174.27 348.39,175.92 348.56,177.67 348.73,179.49 348.9,181.36 349.07,183.27 349.24,185.19 349.41,187.1 349.58,188.98 349.75,190.82 349.92,192.58 350.09,194.25 350.26,195.81 350.43,197.25 350.6,198.54 350.77,199.68 350.94,200.65 351.11,201.44 351.28,202.05 351.45,202.46 351.62,202.67 351.79,202.68 351.96,202.49 352.13,202.1 352.3,201.51 352.47,200.74 352.64,199.78 352.81,198.66 352.98,197.38 353.15,195.96 353.32,194.41 353.49,192.74 353.66,190.99 353.83,189.17 354,187.29 354.17,185.38 354.34,183.46 354.51,181.55 354.68,179.67 354.85,177.84 355.02,176.09 355.19,174.42 355.36,172.87 355.53,171.45 355.7,170.16 355.87,169.04 356.04,168.08 356.21,167.3 356.38,166.71 356.55,166.32 356.72,166.12 356.89,166.13 357.06,166.34 357.23,166.74 357.4,167.34" fill="none" stroke="#e52020" stroke-width="1.2"/>
<ellipse cx="260.19" cy="202.2" rx="0.9" ry="1.8" fill="#c81414"/>
<ellipse cx="265.27" cy="166.6" rx="0.9" ry="1.8" fill="#c81414"/>
<ellipse cx="270.35" cy="202.2" rx="0.9" ry="1.8" fill="#c81414"/>
<ellipse cx="275.44" cy="166.6" rx="0.9" ry="1.8" fill="#c81414"/>
<ellipse cx="280.52" cy="202.2" rx="0.9" ry="1.8" fill="#c81414"/>
<ellipse cx="285.61" cy="166.6" rx="0.9" ry="1.8" fill="#c81414"/>
<ellipse cx="290.69" cy="202.2" rx="0.9" ry="1.8" fill="#c81414"/>
<ellipse cx="295.78" cy="166.6" rx="0.9" ry="1.8" fill="#c81414"/>
<ellipse cx="300.86" cy="202.2" rx="0.9" ry="1.8" fill="#c81414"/>
<ellipse cx="305.95" cy="166.6" rx="0.9" ry="1.8" fill="#c81414"/>
<ellipse cx="311.03" cy="202.2" rx="0.9" ry="1.8" fill="#c81414"/>
<ellipse cx="316.12" cy="166.6" rx="0.9" ry="1.8" fill="#c81414"/>
<ellipse cx="321.20" cy="202.2" rx="0.9" ry="1.8" fill="#c81414"/>
<ellipse cx="326.29" cy="166.6" rx="0.9" ry="1.8" fill="#c81414"/>
<ellipse cx="331.37" cy="202.2" rx="0.9" ry="1.8" fill="#c81414"/>
<ellipse cx="336.46" cy="166.6" rx="0.9" ry="1.8" fill="#c81414"/>
<ellipse cx="341.54" cy="202.2" rx="0.9" ry="1.8" fill="#c81414"/>
<ellipse cx="346.63" cy="166.6" rx="0.9" ry="1.8" fill="#c81414"/>
<ellipse cx="351.71" cy="202.2" rx="0.9" ry="1.8" fill="#c81414"/>
<ellipse cx="356.80" cy="166.6" rx="0.9" ry="1.8" fill="#c81414"/>
<line x1="593.4" y1="5.6" x2="593.4" y2="43.8" stroke="#6a6a6a" stroke-width="0.85"/>
<line x1="593" y1="43.4" x2="677" y2="43.4" stroke="#6a6a6a" stroke-width="0.85"/>
<text x="590.3" y="8.16" font-size="7.4" text-anchor="end" font-weight="bold" fill="#111" stroke="#111" stroke-width="0.15">5.1</text>
<text x="590.3" y="26.31" font-size="7.4" text-anchor="end" font-weight="bold" fill="#111" stroke="#111" stroke-width="0.15">0.0</text>
<text x="590.3" y="45.01" font-size="7.4" text-anchor="end" font-weight="bold" fill="#111" stroke="#111" stroke-width="0.15">-5.1</text>
<text x="593" y="52.1" font-size="7.4" text-anchor="middle" font-weight="bold" fill="#111" stroke="#111" stroke-width="0.15">2.8</text>
<text x="635.2" y="52.1" font-size="7.4" text-anchor="middle" font-weight="bold" fill="#111" stroke="#111" stroke-width="0.15">2.9</text>
<text x="677.6" y="52.1" font-size="7.4" text-anchor="middle" font-weight="bold" fill="#111" stroke="#111" stroke-width="0.15">3.0</text>
<text x="637.8" y="68.9" font-size="10.4" text-anchor="middle" fill="#333">Time (ms)</text>
<text transform="translate(569.4,55.3) rotate(-90)" font-size="10.3" text-anchor="start" fill="#333">Signal (mV)</text>
<polyline points="593.4,14.57 593.54,14.3 593.68,14.14 593.82,14.1 593.96,14.17 594.1,14.36 594.24,14.66 594.38,15.06 594.52,15.57 594.66,16.18 594.8,16.88 594.94,17.66 595.07,18.52 595.21,19.45 595.35,20.43 595.49,21.46 595.63,22.52 595.77,23.6 595.91,24.7 596.05,25.79 596.19,26.87 596.33,27.93 596.47,28.95 596.61,29.92 596.75,30.83 596.89,31.68 597.03,32.45 597.17,33.13 597.31,33.72 597.45,34.22 597.59,34.6 597.73,34.88 597.87,35.05 598.01,35.1 598.15,35.04 598.28,34.86 598.42,34.58 598.56,34.18 598.7,33.68 598.84,33.08 598.98,32.39 599.12,31.61 599.26,30.76 599.4,29.84 599.54,28.86 599.68,27.84 599.82,26.78 599.96,25.7 600.1,24.61 600.24,23.51 600.38,22.43 600.52,21.37 600.66,20.35 600.8,19.37 600.94,18.45 601.08,17.6 601.22,16.82 601.36,16.13 601.49,15.53 601.63,15.03 601.77,14.63 601.91,14.34 602.05,14.16 602.19,14.1 602.33,14.15 602.47,14.32 602.61,14.59 602.75,14.98 602.89,15.47 603.03,16.06 603.17,16.74 603.31,17.51 603.45,18.36 603.59,19.27 603.73,20.24 603.87,21.26 604.01,22.32 604.15,23.4 604.29,24.49 604.43,25.59 604.57,26.67 604.7,27.73 604.84,28.76 604.98,29.74 605.12,30.67 605.26,31.53 605.4,32.31 605.54,33.01 605.68,33.62 605.82,34.13 605.96,34.54 606.1,34.84 606.24,35.02 606.38,35.1 606.52,35.06 606.66,34.9 606.8,34.64 606.94,34.26 607.08,33.78 607.22,33.2 607.36,32.52 607.5,31.76 607.64,30.92 607.78,30.02 607.91,29.05 608.05,28.04 608.19,26.98 608.33,25.9 608.47,24.81 608.61,23.72 608.75,22.63 608.89,21.57 609.03,20.54 609.17,19.55 609.31,18.62 609.45,17.75 609.59,16.96 609.73,16.25 609.87,15.63 610.01,15.11 610.15,14.69 610.29,14.39 610.43,14.19 610.57,14.1 610.71,14.13 610.85,14.28 610.99,14.53 611.12,14.9 611.26,15.37 611.4,15.94 611.54,16.61 611.68,17.36 611.82,18.19 611.96,19.1 612.1,20.06 612.24,21.07 612.38,22.12 612.52,23.19 612.66,24.29 612.8,25.38 612.94,26.47 613.08,27.54 613.22,28.57 613.36,29.56 613.5,30.5 613.64,31.37 613.78,32.17 613.92,32.89 614.06,33.51 614.2,34.04 614.33,34.47 614.47,34.79 614.61,35 614.75,35.09 614.89,35.07 615.03,34.94 615.17,34.7 615.31,34.34 615.45,33.88 615.59,33.32 615.73,32.66 615.87,31.91 616.01,31.09 616.15,30.19 616.29,29.23 616.43,28.23 616.57,27.18 616.71,26.11 616.85,25.02 616.99,23.92 617.13,22.83 617.27,21.76 617.41,20.72 617.54,19.73 617.68,18.79 617.82,17.91 617.96,17.1 618.1,16.38 618.24,15.74 618.38,15.2 618.52,14.76 618.66,14.43 618.8,14.22 618.94,14.11 619.08,14.12 619.22,14.24 619.36,14.48 619.5,14.82 619.64,15.27 619.78,15.83 619.92,16.48 620.06,17.21 620.2,18.03 620.34,18.92 620.48,19.87 620.62,20.88 620.75,21.92 620.89,22.99 621.03,24.08 621.17,25.18 621.31,26.27 621.45,27.34 621.59,28.38 621.73,29.38 621.87,30.33 622.01,31.21 622.15,32.03 622.29,32.76 622.43,33.4 622.57,33.95 622.71,34.4 622.85,34.74 622.99,34.97 623.13,35.08 623.27,35.09 623.41,34.97 623.55,34.75 623.69,34.41 623.83,33.97 623.96,33.43 624.1,32.79 624.24,32.06 624.38,31.25 624.52,30.36 624.66,29.42 624.8,28.42 624.94,27.38 625.08,26.31 625.22,25.22 625.36,24.12 625.5,23.03 625.64,21.96 625.78,20.92 625.92,19.91 626.06,18.96 626.2,18.07 626.34,17.24 626.48,16.5 626.62,15.85 626.76,15.29 626.9,14.84 627.04,14.49 627.17,14.25 627.31,14.12 627.45,14.11 627.59,14.21 627.73,14.42 627.87,14.75 628.01,15.18 628.15,15.72 628.29,16.35 628.43,17.07 628.57,17.87 628.71,18.75 628.85,19.69 628.99,20.69 629.13,21.72 629.27,22.79 629.41,23.88 629.55,24.97 629.69,26.07 629.83,27.14 629.97,28.19 630.11,29.2 630.25,30.16 630.38,31.05 630.52,31.88 630.66,32.63 630.8,33.29 630.94,33.86 631.08,34.32 631.22,34.68 631.36,34.93 631.5,35.07 631.64,35.1 631.78,35 631.92,34.8 632.06,34.49 632.2,34.06 632.34,33.54 632.48,32.91 632.62,32.2 632.76,31.4 632.9,30.53 633.04,29.6 633.18,28.61 633.32,27.58 633.46,26.51 633.59,25.42 633.73,24.33 633.87,23.24 634.01,22.16 634.15,21.11 634.29,20.1 634.43,19.13 634.57,18.23 634.71,17.39 634.85,16.64 634.99,15.97 635.13,15.39 635.27,14.92 635.41,14.55 635.55,14.28 635.69,14.14 635.83,14.1 635.97,14.18 636.11,14.38 636.25,14.68 636.39,15.09 636.53,15.61 636.67,16.22 636.81,16.93 636.94,17.72 637.08,18.58 637.22,19.51 637.36,20.5 637.5,21.53 637.64,22.59 637.78,23.67 637.92,24.77 638.06,25.86 638.2,26.94 638.34,28 638.48,29.01 638.62,29.98 638.76,30.89 638.9,31.73 639.04,32.5 639.18,33.18 639.32,33.76 639.46,34.25 639.6,34.62 639.74,34.9 639.88,35.05 640.02,35.1 640.15,35.03 640.29,34.85 640.43,34.55 640.57,34.15 640.71,33.64 640.85,33.04 640.99,32.34 641.13,31.56 641.27,30.7 641.41,29.78 641.55,28.8 641.69,27.77 641.83,26.71 641.97,25.63 642.11,24.53 642.25,23.44 642.39,22.36 642.53,21.3 642.67,20.28 642.81,19.31 642.95,18.39 643.09,17.54 643.23,16.77 643.36,16.08 643.5,15.49 643.64,15 643.78,14.61 643.92,14.32 644.06,14.16 644.2,14.1 644.34,14.16 644.48,14.33 644.62,14.62 644.76,15.01 644.9,15.51 645.04,16.1 645.18,16.79 645.32,17.57 645.46,18.42 645.6,19.33 645.74,20.31 645.88,21.33 646.02,22.39 646.16,23.47 646.3,24.56 646.44,25.66 646.57,26.74 646.71,27.8 646.85,28.83 646.99,29.8 647.13,30.73 647.27,31.58 647.41,32.36 647.55,33.06 647.69,33.66 647.83,34.16 647.97,34.56 648.11,34.85 648.25,35.03 648.39,35.1 648.53,35.05 648.67,34.89 648.81,34.62 648.95,34.23 649.09,33.74 649.23,33.16 649.37,32.48 649.51,31.71 649.65,30.87 649.78,29.95 649.92,28.98 650.06,27.97 650.2,26.91 650.34,25.83 650.48,24.74 650.62,23.64 650.76,22.56 650.9,21.5 651.04,20.47 651.18,19.48 651.32,18.56 651.46,17.7 651.6,16.91 651.74,16.21 651.88,15.59 652.02,15.08 652.16,14.67 652.3,14.37 652.44,14.18 652.58,14.1 652.72,14.14 652.86,14.29 652.99,14.55 653.13,14.93 653.27,15.41 653.41,15.98 653.55,16.66 653.69,17.42 653.83,18.25 653.97,19.16 654.11,20.12 654.25,21.14 654.39,22.19 654.53,23.27 654.67,24.36 654.81,25.46 654.95,26.54 655.09,27.61 655.23,28.64 655.37,29.63 655.51,30.56 655.65,31.43 655.79,32.22 655.93,32.93 656.07,33.55 656.2,34.08 656.34,34.5 656.48,34.81 656.62,35.01 656.76,35.1 656.9,35.07 657.04,34.93 657.18,34.68 657.32,34.31 657.46,33.84 657.6,33.27 657.74,32.61 657.88,31.86 658.02,31.03 658.16,30.13 658.3,29.17 658.44,28.16 658.58,27.11 658.72,26.03 658.86,24.94 659,23.85 659.14,22.76 659.28,21.69 659.41,20.66 659.55,19.66 659.69,18.73 659.83,17.85 659.97,17.05 660.11,16.33 660.25,15.7 660.39,15.17 660.53,14.74 660.67,14.42 660.81,14.21 660.95,14.11 661.09,14.12 661.23,14.25 661.37,14.5 661.51,14.85 661.65,15.31 661.79,15.87 661.93,16.52 662.07,17.27 662.21,18.09 662.35,18.98 662.49,19.94 662.62,20.95 662.76,21.99 662.9,23.06 663.04,24.16 663.18,25.25 663.32,26.34 663.46,27.41 663.6,28.45 663.74,29.45 663.88,30.39 664.02,31.27 664.16,32.08 664.3,32.81 664.44,33.44 664.58,33.99 664.72,34.43 664.86,34.76 665,34.98 665.14,35.09 665.28,35.08 665.42,34.96 665.56,34.73 665.7,34.39 665.83,33.94 665.97,33.39 666.11,32.74 666.25,32.01 666.39,31.19 666.53,30.3 666.67,29.35 666.81,28.35 666.95,27.31 667.09,26.24 667.23,25.15 667.37,24.05 667.51,22.96 667.65,21.89 667.79,20.85 667.93,19.85 668.07,18.9 668.21,18.01 668.35,17.19 668.49,16.46 668.63,15.81 668.77,15.26 668.91,14.81 669.04,14.47 669.18,14.24 669.32,14.12 669.46,14.11 669.6,14.22 669.74,14.44 669.88,14.78 670.02,15.22 670.16,15.76 670.3,16.39 670.44,17.12 670.58,17.93 670.72,18.81 670.86,19.76 671,20.75 671.14,21.79 671.28,22.86 671.42,23.95 671.56,25.05 671.7,26.14 671.84,27.21 671.98,28.26 672.12,29.26 672.25,30.22 672.39,31.11 672.53,31.93 672.67,32.68 672.81,33.33 672.95,33.89 673.09,34.35 673.23,34.7 673.37,34.95 673.51,35.08 673.65,35.09 673.79,34.99 673.93,34.78 674.07,34.46 674.21,34.03 674.35,33.5 674.49,32.87 674.63,32.15 674.77,31.35 674.91,30.47 675.05,29.53 675.19,28.54 675.33,27.51 675.46,26.44 675.6,25.35 675.74,24.26 675.88,23.16 676.02,22.09 676.16,21.04 676.3,20.03 676.44,19.07 676.58,18.17 676.72,17.34 676.86,16.59 677,15.92" fill="none" stroke="#d8707f" stroke-width="0.9"/>
<line x1="593.4" y1="116.3" x2="593.4" y2="154.7" stroke="#6a6a6a" stroke-width="0.85"/>
<line x1="593" y1="154.3" x2="675.8" y2="154.3" stroke="#6a6a6a" stroke-width="0.85"/>
<text x="590.4" y="118.06" font-size="7.4" text-anchor="end" font-weight="bold" fill="#111" stroke="#111" stroke-width="0.15">0.31</text>
<text x="590.4" y="137.46" font-size="7.4" text-anchor="end" font-weight="bold" fill="#111" stroke="#111" stroke-width="0.15">0.00</text>
<text x="590.4" y="155.96" font-size="7.4" text-anchor="end" font-weight="bold" fill="#111" stroke="#111" stroke-width="0.15">-0.31</text>
<text x="593.5" y="163.3" font-size="7.4" text-anchor="middle" font-weight="bold" fill="#111" stroke="#111" stroke-width="0.15">2.8</text>
<text x="635.5" y="163.3" font-size="7.4" text-anchor="middle" font-weight="bold" fill="#111" stroke="#111" stroke-width="0.15">2.9</text>
<text x="676.3" y="163.3" font-size="7.4" text-anchor="middle" font-weight="bold" fill="#111" stroke="#111" stroke-width="0.15">3.0</text>
<text x="638.6" y="176.6" font-size="9.8" text-anchor="middle" fill="#333">Time (ms)</text>
<text transform="translate(570.6,167.4) rotate(-90)" font-size="10.0" text-anchor="start" fill="#333">Signal (mV)</text>
<polyline points="593.6,123.96 593.74,124.69 593.87,125.53 594.01,126.48 594.15,127.51 594.29,128.63 594.42,129.82 594.56,131.06 594.7,132.35 594.84,133.67 594.97,135 595.11,136.33 595.25,137.65 595.38,138.95 595.52,140.2 595.66,141.4 595.8,142.53 595.93,143.58 596.07,144.54 596.21,145.39 596.34,146.14 596.48,146.77 596.62,147.28 596.76,147.65 596.89,147.89 597.03,148 597.17,147.96 597.31,147.79 597.44,147.48 597.58,147.04 597.72,146.47 597.85,145.78 597.99,144.98 598.13,144.07 598.27,143.06 598.4,141.97 598.54,140.8 598.68,139.58 598.81,138.3 598.95,137 599.09,135.67 599.23,134.33 599.36,133.01 599.5,131.7 599.64,130.43 599.78,129.22 599.91,128.06 600.05,126.98 600.19,125.99 600.32,125.1 600.46,124.31 600.6,123.64 600.74,123.09 600.87,122.66 601.01,122.38 601.15,122.22 601.28,122.21 601.42,122.34 601.56,122.6 601.7,122.99 601.83,123.51 601.97,124.16 602.11,124.93 602.25,125.8 602.38,126.78 602.52,127.84 602.66,128.98 602.79,130.19 602.93,131.44 603.07,132.74 603.21,134.06 603.34,135.4 603.48,136.73 603.62,138.04 603.75,139.33 603.89,140.56 604.03,141.74 604.17,142.85 604.3,143.87 604.44,144.8 604.58,145.63 604.72,146.34 604.85,146.94 604.99,147.4 605.13,147.74 605.26,147.94 605.4,148 605.54,147.92 605.68,147.71 605.81,147.36 605.95,146.88 606.09,146.28 606.23,145.55 606.36,144.72 606.5,143.78 606.64,142.74 606.77,141.63 606.91,140.44 607.05,139.2 607.19,137.92 607.32,136.6 607.46,135.27 607.6,133.94 607.73,132.61 607.87,131.32 608.01,130.07 608.15,128.87 608.28,127.73 608.42,126.68 608.56,125.71 608.7,124.85 608.83,124.09 608.97,123.46 609.11,122.95 609.24,122.56 609.38,122.32 609.52,122.21 609.66,122.23 609.79,122.4 609.93,122.7 610.07,123.13 610.2,123.7 610.34,124.38 610.48,125.18 610.62,126.08 610.75,127.08 610.89,128.17 611.03,129.33 611.17,130.56 611.3,131.83 611.44,133.13 611.58,134.46 611.71,135.8 611.85,137.12 611.99,138.43 612.13,139.7 612.26,140.92 612.4,142.08 612.54,143.16 612.67,144.16 612.81,145.06 612.95,145.85 613.09,146.53 613.22,147.09 613.36,147.52 613.5,147.81 613.64,147.97 613.77,147.99 613.91,147.87 614.05,147.62 614.18,147.23 614.32,146.72 614.46,146.07 614.6,145.31 614.73,144.45 614.87,143.48 615.01,142.42 615.14,141.28 615.28,140.08 615.42,138.82 615.56,137.53 615.69,136.2 615.83,134.87 615.97,133.54 616.11,132.22 616.24,130.94 616.38,129.7 616.52,128.52 616.65,127.41 616.79,126.38 616.93,125.44 617.07,124.61 617.2,123.89 617.34,123.29 617.48,122.82 617.62,122.48 617.75,122.27 617.89,122.2 618.03,122.27 618.16,122.47 618.3,122.82 618.44,123.29 618.58,123.89 618.71,124.61 618.85,125.44 618.99,126.37 619.12,127.4 619.26,128.51 619.4,129.69 619.54,130.93 619.67,132.21 619.81,133.53 619.95,134.86 620.09,136.19 620.22,137.52 620.36,138.81 620.5,140.07 620.63,141.27 620.77,142.41 620.91,143.47 621.05,144.44 621.18,145.31 621.32,146.07 621.46,146.71 621.59,147.23 621.73,147.62 621.87,147.87 622.01,147.99 622.14,147.97 622.28,147.81 622.42,147.52 622.56,147.09 622.69,146.54 622.83,145.86 622.97,145.07 623.1,144.17 623.24,143.17 623.38,142.09 623.52,140.93 623.65,139.71 623.79,138.44 623.93,137.13 624.06,135.81 624.2,134.47 624.34,133.14 624.48,131.84 624.61,130.57 624.75,129.34 624.89,128.18 625.03,127.09 625.16,126.09 625.3,125.18 625.44,124.38 625.57,123.7 625.71,123.14 625.85,122.7 625.99,122.4 626.12,122.23 626.26,122.21 626.4,122.32 626.53,122.56 626.67,122.94 626.81,123.45 626.95,124.09 627.08,124.84 627.22,125.71 627.36,126.67 627.5,127.72 627.63,128.86 627.77,130.06 627.91,131.31 628.04,132.6 628.18,133.93 628.32,135.26 628.46,136.59 628.59,137.91 628.73,139.19 628.87,140.44 629.01,141.62 629.14,142.74 629.28,143.77 629.42,144.71 629.55,145.55 629.69,146.27 629.83,146.88 629.97,147.36 630.1,147.71 630.24,147.92 630.38,148 630.51,147.94 630.65,147.74 630.79,147.41 630.93,146.94 631.06,146.35 631.2,145.63 631.34,144.81 631.48,143.88 631.61,142.86 631.75,141.75 631.89,140.57 632.02,139.33 632.16,138.05 632.3,136.74 632.44,135.41 632.57,134.07 632.71,132.75 632.85,131.45 632.98,130.19 633.12,128.99 633.26,127.85 633.4,126.78 633.53,125.81 633.67,124.93 633.81,124.17 633.95,123.52 634.08,122.99 634.22,122.6 634.36,122.34 634.49,122.21 634.63,122.22 634.77,122.37 634.91,122.66 635.04,123.08 635.18,123.63 635.32,124.3 635.45,125.09 635.59,125.98 635.73,126.98 635.87,128.05 636,129.21 636.14,130.43 636.28,131.69 636.42,133 636.55,134.32 636.69,135.66 636.83,136.99 636.96,138.29 637.1,139.57 637.24,140.8 637.38,141.96 637.51,143.05 637.65,144.06 637.79,144.97 637.92,145.78 638.06,146.47 638.2,147.04 638.34,147.48 638.47,147.79 638.61,147.96 638.75,148 638.89,147.89 639.02,147.65 639.16,147.28 639.3,146.78 639.43,146.15 639.57,145.4 639.71,144.54 639.85,143.58 639.98,142.53 640.12,141.4 640.26,140.21 640.39,138.96 640.53,137.66 640.67,136.34 640.81,135.01 640.94,133.68 641.08,132.36 641.22,131.07 641.36,129.83 641.49,128.64 641.63,127.52 641.77,126.48 641.9,125.54 642.04,124.69 642.18,123.96 642.32,123.35 642.45,122.86 642.59,122.51 642.73,122.28 642.87,122.2 643,122.25 643.14,122.45 643.28,122.77 643.41,123.23 643.55,123.82 643.69,124.53 643.83,125.35 643.96,126.27 644.1,127.29 644.24,128.39 644.37,129.57 644.51,130.8 644.65,132.08 644.79,133.39 644.92,134.72 645.06,136.06 645.2,137.38 645.34,138.68 645.47,139.94 645.61,141.15 645.75,142.29 645.88,143.36 646.02,144.34 646.16,145.22 646.3,145.99 646.43,146.65 646.57,147.18 646.71,147.58 646.84,147.85 646.98,147.99 647.12,147.98 647.26,147.84 647.39,147.56 647.53,147.14 647.67,146.6 647.81,145.94 647.94,145.15 648.08,144.27 648.22,143.28 648.35,142.2 648.49,141.05 648.63,139.84 648.77,138.57 648.9,137.27 649.04,135.95 649.18,134.61 649.31,133.28 649.45,131.97 649.59,130.7 649.73,129.47 649.86,128.3 650,127.2 650.14,126.19 650.28,125.27 650.41,124.46 650.55,123.77 650.69,123.19 650.82,122.74 650.96,122.43 651.1,122.25 651.24,122.2 651.37,122.3 651.51,122.53 651.65,122.9 651.78,123.39 651.92,124.02 652.06,124.76 652.2,125.61 652.33,126.56 652.47,127.61 652.61,128.73 652.75,129.93 652.88,131.18 653.02,132.47 653.16,133.79 653.29,135.12 653.43,136.45 653.57,137.77 653.71,139.06 653.84,140.31 653.98,141.5 654.12,142.62 654.26,143.66 654.39,144.62 654.53,145.46 654.67,146.2 654.8,146.82 654.94,147.32 655.08,147.68 655.22,147.91 655.35,148 655.49,147.95 655.63,147.77 655.76,147.45 655.9,146.99 656.04,146.42 656.18,145.71 656.31,144.9 656.45,143.98 656.59,142.97 656.73,141.87 656.86,140.7 657,139.47 657.14,138.19 657.27,136.88 657.41,135.55 657.55,134.21 657.69,132.89 657.82,131.59 657.96,130.32 658.1,129.11 658.23,127.96 658.37,126.89 658.51,125.91 658.65,125.02 658.78,124.24 658.92,123.58 659.06,123.04 659.2,122.63 659.33,122.36 659.47,122.22 659.61,122.22 659.74,122.35 659.88,122.63 660.02,123.03 660.16,123.57 660.29,124.23 660.43,125 660.57,125.88 660.7,126.87 660.84,127.94 660.98,129.08 661.12,130.3 661.25,131.56 661.39,132.86 661.53,134.18 661.67,135.52 661.8,136.85 661.94,138.16 662.08,139.44 662.21,140.67 662.35,141.84 662.49,142.94 662.63,143.96 662.76,144.88 662.9,145.7 663.04,146.4 663.17,146.98 663.31,147.44 663.45,147.76 663.59,147.95 663.72,148 663.86,147.91 664,147.69 664.14,147.33 664.27,146.83 664.41,146.22 664.55,145.48 664.68,144.64 664.82,143.69 664.96,142.65 665.1,141.53 665.23,140.34 665.37,139.09 665.51,137.8 665.65,136.48 665.78,135.15 665.92,133.82 666.06,132.5 666.19,131.21 666.33,129.96 666.47,128.76 666.61,127.63 666.74,126.59 666.88,125.63 667.02,124.78 667.15,124.03 667.29,123.41 667.43,122.91 667.57,122.54 667.7,122.3 667.84,122.2 667.98,122.24 668.12,122.42 668.25,122.73 668.39,123.18 668.53,123.75 668.66,124.45 668.8,125.25 668.94,126.17 669.08,127.18 669.21,128.27 669.35,129.44 669.49,130.67 669.62,131.94 669.76,133.25 669.9,134.58 670.04,135.92 670.17,137.24 670.31,138.54 670.45,139.81 670.59,141.03 670.72,142.18 670.86,143.25 671,144.24 671.13,145.14 671.27,145.92 671.41,146.59 671.55,147.13 671.68,147.55 671.82,147.83 671.96,147.98 672.09,147.99 672.23,147.86 672.37,147.59 672.51,147.19 672.64,146.66 672.78,146.01 672.92,145.24 673.06,144.36 673.19,143.39 673.33,142.32 673.47,141.18 673.6,139.97 673.74,138.71 673.88,137.41 674.02,136.09 674.15,134.75 674.29,133.42 674.43,132.11 674.56,130.83 674.7,129.59 674.84,128.42 674.98,127.31 675.11,126.29 675.25,125.37 675.39,124.54 675.53,123.83 675.66,123.24 675.8,122.78" fill="none" stroke="#6f6fc4" stroke-width="0.9"/>
<line x1="594.4" y1="223.2" x2="594.4" y2="261.6" stroke="#6a6a6a" stroke-width="0.85"/>
<line x1="594" y1="261.2" x2="678" y2="261.2" stroke="#6a6a6a" stroke-width="0.85"/>
<text x="591.6" y="225.26" font-size="7.4" text-anchor="end" font-weight="bold" fill="#111" stroke="#111" stroke-width="0.15">32</text>
<text x="591.6" y="244.26" font-size="7.4" text-anchor="end" font-weight="bold" fill="#111" stroke="#111" stroke-width="0.15">0</text>
<text x="591.6" y="262.66" font-size="7.4" text-anchor="end" font-weight="bold" fill="#111" stroke="#111" stroke-width="0.15">-32</text>
<text x="593.5" y="270.6" font-size="7.4" text-anchor="middle" font-weight="bold" fill="#111" stroke="#111" stroke-width="0.15">2.8</text>
<text x="636" y="270.6" font-size="7.4" text-anchor="middle" font-weight="bold" fill="#111" stroke="#111" stroke-width="0.15">2.9</text>
<text x="678" y="270.6" font-size="7.4" text-anchor="middle" font-weight="bold" fill="#111" stroke="#111" stroke-width="0.15">3.0</text>
<text x="639.7" y="283.3" font-size="9.8" text-anchor="middle" fill="#333">Time (ms)</text>
<text transform="translate(576,273.6) rotate(-90)" font-size="10.6" text-anchor="start" fill="#333">Signal (mV)</text>
<polyline points="594.5,245.68 594.64,244.14 594.78,242.59 594.92,241.03 595.06,239.49 595.2,237.98 595.34,236.51 595.48,235.11 595.62,233.79 595.75,232.56 595.89,231.44 596.03,230.43 596.17,229.56 596.31,228.82 596.45,228.23 596.59,227.8 596.73,227.52 596.87,227.4 597.01,227.45 597.15,227.66 597.29,228.03 597.43,228.55 597.57,229.22 597.71,230.04 597.85,230.99 597.98,232.06 598.12,233.24 598.26,234.53 598.4,235.9 598.54,237.33 598.68,238.83 598.82,240.36 598.96,241.91 599.1,243.47 599.24,245.01 599.38,246.53 599.52,248 599.66,249.41 599.8,250.75 599.94,251.99 600.08,253.12 600.22,254.14 600.35,255.04 600.49,255.79 600.63,256.4 600.77,256.85 600.91,257.15 601.05,257.29 601.19,257.27 601.33,257.08 601.47,256.73 601.61,256.23 601.75,255.57 601.89,254.78 602.03,253.84 602.17,252.79 602.31,251.62 602.45,250.34 602.59,248.99 602.72,247.56 602.86,246.07 603,244.54 603.14,242.99 603.28,241.43 603.42,239.88 603.56,238.36 603.7,236.88 603.84,235.47 603.98,234.12 604.12,232.87 604.26,231.72 604.4,230.68 604.54,229.77 604.68,229 604.82,228.37 604.95,227.9 605.09,227.58 605.23,227.42 605.37,227.42 605.51,227.59 605.65,227.91 605.79,228.4 605.93,229.03 606.07,229.81 606.21,230.73 606.35,231.77 606.49,232.93 606.63,234.19 606.77,235.53 606.91,236.96 607.05,238.44 607.19,239.96 607.32,241.51 607.46,243.07 607.6,244.62 607.74,246.14 607.88,247.63 608.02,249.05 608.16,250.41 608.3,251.68 608.44,252.84 608.58,253.89 608.72,254.82 608.86,255.61 609,256.26 609.14,256.75 609.28,257.09 609.42,257.27 609.56,257.29 609.69,257.14 609.83,256.84 609.97,256.37 610.11,255.76 610.25,255 610.39,254.1 610.53,253.07 610.67,251.93 610.81,250.68 610.95,249.34 611.09,247.93 611.23,246.46 611.37,244.94 611.51,243.39 611.65,241.83 611.79,240.28 611.92,238.75 612.06,237.26 612.2,235.83 612.34,234.46 612.48,233.18 612.62,232 612.76,230.94 612.9,229.99 613.04,229.18 613.18,228.52 613.32,228 613.46,227.64 613.6,227.44 613.74,227.41 613.88,227.53 614.02,227.82 614.16,228.26 614.29,228.85 614.43,229.6 614.57,230.48 614.71,231.49 614.85,232.62 614.99,233.85 615.13,235.18 615.27,236.58 615.41,238.05 615.55,239.56 615.69,241.11 615.83,242.66 615.97,244.22 616.11,245.75 616.25,247.25 616.39,248.69 616.53,250.07 616.66,251.36 616.8,252.55 616.94,253.63 617.08,254.59 617.22,255.42 617.36,256.1 617.5,256.64 617.64,257.02 617.78,257.24 617.92,257.3 618.06,257.2 618.2,256.93 618.34,256.51 618.48,255.93 618.62,255.21 618.76,254.34 618.89,253.35 619.03,252.23 619.17,251.01 619.31,249.7 619.45,248.3 619.59,246.84 619.73,245.34 619.87,243.79 620.01,242.24 620.15,240.68 620.29,239.15 620.43,237.64 620.57,236.19 620.71,234.81 620.85,233.5 620.99,232.3 621.13,231.2 621.26,230.22 621.4,229.38 621.54,228.68 621.68,228.12 621.82,227.72 621.96,227.48 622.1,227.4 622.24,227.48 622.38,227.73 622.52,228.13 622.66,228.69 622.8,229.39 622.94,230.24 623.08,231.22 623.22,232.31 623.36,233.52 623.49,234.83 623.63,236.21 623.77,237.66 623.91,239.17 624.05,240.7 624.19,242.26 624.33,243.82 624.47,245.36 624.61,246.87 624.75,248.32 624.89,249.72 625.03,251.03 625.17,252.25 625.31,253.36 625.45,254.36 625.59,255.22 625.73,255.94 625.86,256.51 626,256.94 626.14,257.2 626.28,257.3 626.42,257.24 626.56,257.01 626.7,256.63 626.84,256.09 626.98,255.41 627.12,254.58 627.26,253.62 627.4,252.53 627.54,251.34 627.68,250.05 627.82,248.67 627.96,247.23 628.1,245.73 628.23,244.2 628.37,242.64 628.51,241.08 628.65,239.54 628.79,238.03 628.93,236.56 629.07,235.16 629.21,233.83 629.35,232.6 629.49,231.47 629.63,230.47 629.77,229.59 629.91,228.85 630.05,228.25 630.19,227.81 630.33,227.53 630.46,227.41 630.6,227.45 630.74,227.65 630.88,228.01 631.02,228.53 631.16,229.2 631.3,230.01 631.44,230.95 631.58,232.02 631.72,233.2 631.86,234.48 632,235.85 632.14,237.28 632.28,238.77 632.42,240.3 632.56,241.86 632.7,243.42 632.83,244.96 632.97,246.48 633.11,247.95 633.25,249.36 633.39,250.7 633.53,251.95 633.67,253.09 633.81,254.11 633.95,255.01 634.09,255.77 634.23,256.38 634.37,256.84 634.51,257.15 634.65,257.29 634.79,257.27 634.93,257.09 635.07,256.75 635.2,256.25 635.34,255.6 635.48,254.81 635.62,253.88 635.76,252.83 635.9,251.66 636.04,250.39 636.18,249.03 636.32,247.61 636.46,246.12 636.6,244.59 636.74,243.04 636.88,241.49 637.02,239.94 637.16,238.41 637.3,236.94 637.43,235.51 637.57,234.17 637.71,232.91 637.85,231.75 637.99,230.71 638.13,229.8 638.27,229.02 638.41,228.39 638.55,227.91 638.69,227.58 638.83,227.42 638.97,227.42 639.11,227.58 639.25,227.9 639.39,228.38 639.53,229.01 639.67,229.78 639.8,230.69 639.94,231.73 640.08,232.89 640.22,234.14 640.36,235.49 640.5,236.91 640.64,238.38 640.78,239.91 640.92,241.45 641.06,243.01 641.2,244.56 641.34,246.09 641.48,247.58 641.62,249.01 641.76,250.36 641.9,251.63 642.04,252.8 642.17,253.86 642.31,254.79 642.45,255.58 642.59,256.24 642.73,256.74 642.87,257.08 643.01,257.27 643.15,257.29 643.29,257.15 643.43,256.85 643.57,256.39 643.71,255.78 643.85,255.02 643.99,254.13 644.13,253.11 644.27,251.97 644.4,250.73 644.54,249.39 644.68,247.98 644.82,246.51 644.96,244.99 645.1,243.45 645.24,241.89 645.38,240.34 645.52,238.81 645.66,237.31 645.8,235.88 645.94,234.51 646.08,233.23 646.22,232.04 646.36,230.97 646.5,230.02 646.64,229.21 646.77,228.54 646.91,228.02 647.05,227.65 647.19,227.45 647.33,227.4 647.47,227.52 647.61,227.8 647.75,228.24 647.89,228.83 648.03,229.57 648.17,230.45 648.31,231.45 648.45,232.58 648.59,233.81 648.73,235.13 648.87,236.53 649.01,238 649.14,239.51 649.28,241.05 649.42,242.61 649.56,244.16 649.7,245.7 649.84,247.2 649.98,248.64 650.12,250.02 650.26,251.31 650.4,252.51 650.54,253.6 650.68,254.56 650.82,255.39 650.96,256.08 651.1,256.62 651.24,257.01 651.37,257.23 651.51,257.3 651.65,257.2 651.79,256.94 651.93,256.52 652.07,255.95 652.21,255.23 652.35,254.37 652.49,253.39 652.63,252.28 652.77,251.06 652.91,249.75 653.05,248.35 653.19,246.9 653.33,245.39 653.47,243.85 653.61,242.29 653.74,240.74 653.88,239.2 654.02,237.69 654.16,236.24 654.3,234.85 654.44,233.55 654.58,232.34 654.72,231.24 654.86,230.26 655,229.41 655.14,228.7 655.28,228.14 655.42,227.73 655.56,227.49 655.7,227.4 655.84,227.48 655.97,227.72 656.11,228.11 656.25,228.66 656.39,229.36 656.53,230.21 656.67,231.18 656.81,232.27 656.95,233.48 657.09,234.78 657.23,236.16 657.37,237.61 657.51,239.11 657.65,240.65 657.79,242.21 657.93,243.76 658.07,245.3 658.21,246.81 658.34,248.27 658.48,249.67 658.62,250.99 658.76,252.21 658.9,253.33 659.04,254.32 659.18,255.19 659.32,255.92 659.46,256.5 659.6,256.92 659.74,257.19 659.88,257.3 660.02,257.24 660.16,257.02 660.3,256.65 660.44,256.12 660.58,255.43 660.71,254.61 660.85,253.65 660.99,252.57 661.13,251.38 661.27,250.09 661.41,248.72 661.55,247.28 661.69,245.78 661.83,244.25 661.97,242.7 662.11,241.14 662.25,239.59 662.39,238.08 662.53,236.61 662.67,235.21 662.81,233.88 662.94,232.64 663.08,231.51 663.22,230.5 663.36,229.61 663.5,228.87 663.64,228.27 663.78,227.82 663.92,227.53 664.06,227.41 664.2,227.44 664.34,227.64 664.48,227.99 664.62,228.51 664.76,229.17 664.9,229.98 665.04,230.92 665.18,231.98 665.31,233.16 665.45,234.43 665.59,235.8 665.73,237.23 665.87,238.72 666.01,240.25 666.15,241.8 666.29,243.36 666.43,244.91 666.57,246.43 666.71,247.9 666.85,249.32 666.99,250.66 667.13,251.9 667.27,253.05 667.41,254.08 667.55,254.98 667.68,255.74 667.82,256.36 667.96,256.83 668.1,257.14 668.24,257.29 668.38,257.27 668.52,257.1 668.66,256.76 668.8,256.27 668.94,255.62 669.08,254.84 669.22,253.91 669.36,252.86 669.5,251.7 669.64,250.44 669.78,249.08 669.91,247.66 670.05,246.17 670.19,244.65 670.33,243.1 670.47,241.54 670.61,239.99 670.75,238.47 670.89,236.99 671.03,235.56 671.17,234.21 671.31,232.95 671.45,231.79 671.59,230.75 671.73,229.83 671.87,229.05 672.01,228.41 672.15,227.92 672.28,227.59 672.42,227.42 672.56,227.42 672.7,227.57 672.84,227.89 672.98,228.36 673.12,228.98 673.26,229.75 673.4,230.66 673.54,231.69 673.68,232.84 673.82,234.1 673.96,235.44 674.1,236.86 674.24,238.33 674.38,239.85 674.52,241.4 674.65,242.96 674.79,244.51 674.93,246.04 675.07,247.53 675.21,248.96 675.35,250.32 675.49,251.59 675.63,252.76 675.77,253.82 675.91,254.76 676.05,255.56 676.19,256.22 676.33,256.72 676.47,257.07 676.61,257.26 676.75,257.29 676.88,257.16 677.02,256.86 677.16,256.41 677.3,255.8 677.44,255.05 677.58,254.16 677.72,253.15 677.86,252.01 678,250.77" fill="none" stroke="#6aab6a" stroke-width="0.9"/>
</svg></body></html>
